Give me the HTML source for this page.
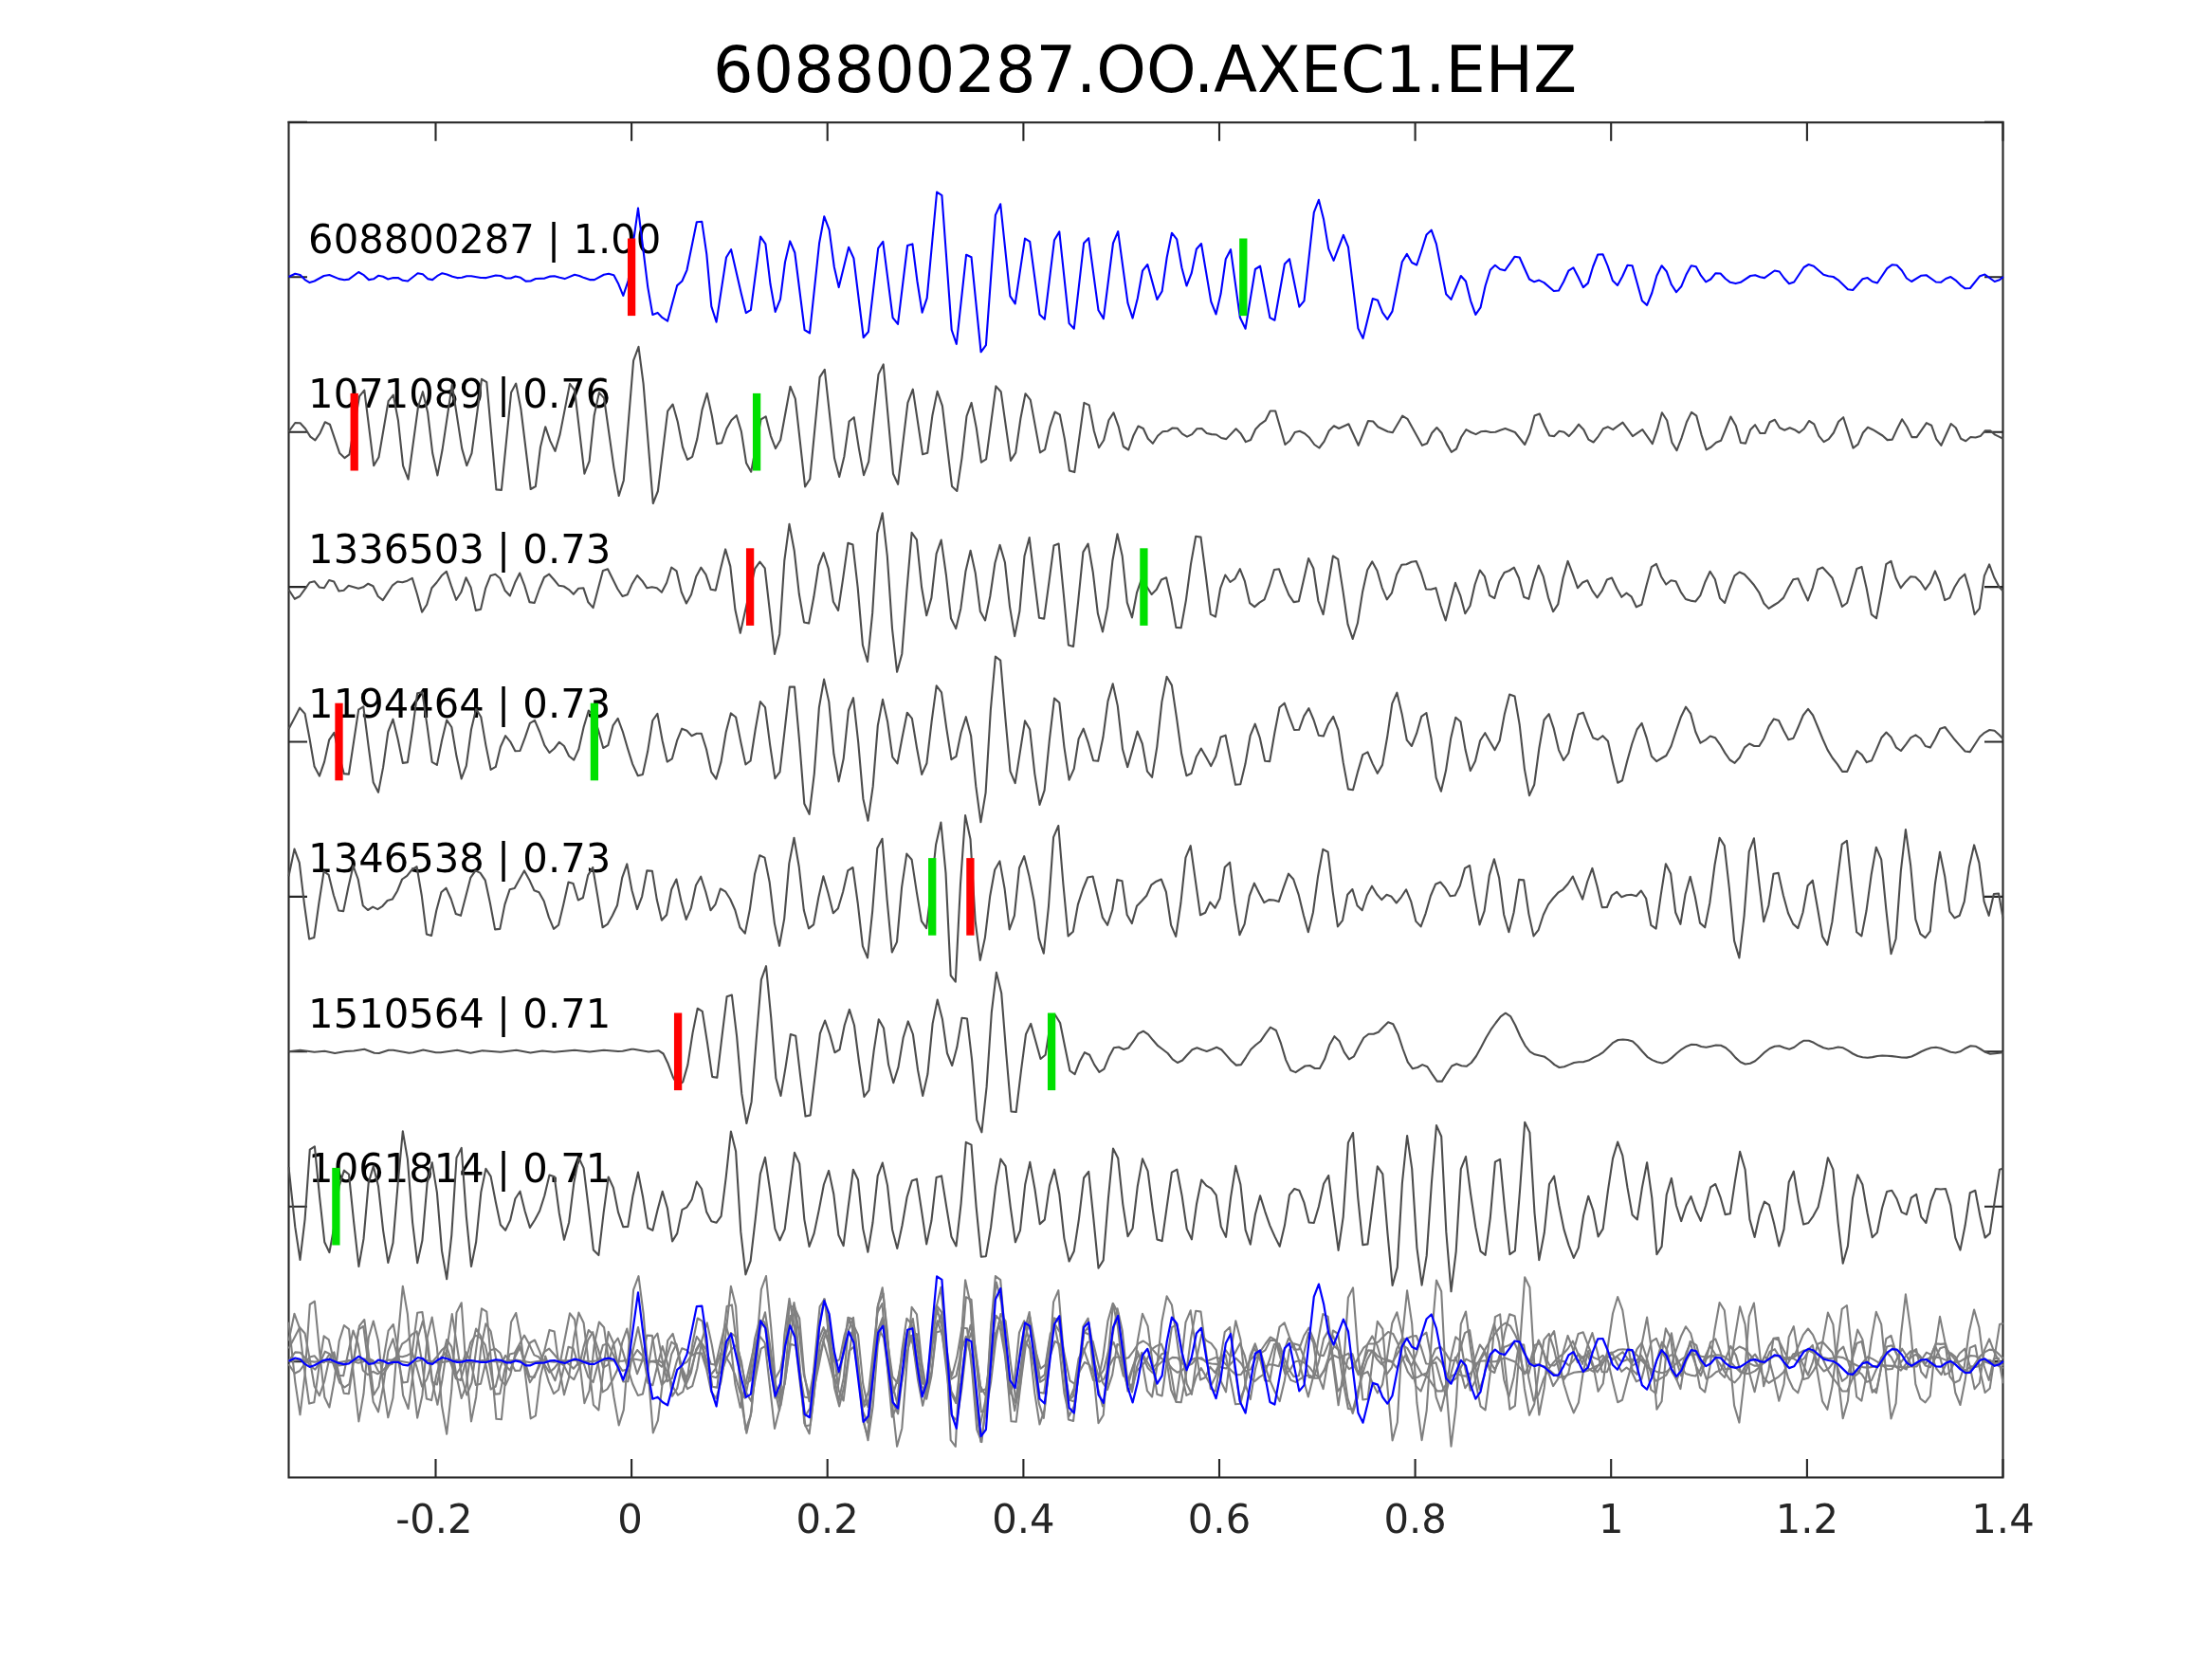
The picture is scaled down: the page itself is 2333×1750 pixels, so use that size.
<!DOCTYPE html>
<html><head><meta charset="utf-8"><title>608800287.OO.AXEC1.EHZ</title>
<style>html,body{margin:0;padding:0;background:#fff;overflow:hidden}svg{display:block;will-change:transform}</style></head>
<body>
<svg width="2333" height="1750" viewBox="0 0 2333 1750">
<rect width="2333" height="1750" fill="#fff"/>
<defs><clipPath id="c"><rect x="303.5" y="128.2" width="1810.0" height="1431.3"/></clipPath></defs>
<g stroke="#262626" stroke-width="2.1" fill="none">
<rect x="304.5" y="129.2" width="1808.0" height="1429.3"/>
<path d="M459.5 129.2v19.5M459.5 1558.5v-19.5M666.1 129.2v19.5M666.1 1558.5v-19.5M872.7 129.2v19.5M872.7 1558.5v-19.5M1079.4 129.2v19.5M1079.4 1558.5v-19.5M1286.0 129.2v19.5M1286.0 1558.5v-19.5M1492.6 129.2v19.5M1492.6 1558.5v-19.5M1699.2 129.2v19.5M1699.2 1558.5v-19.5M1905.9 129.2v19.5M1905.9 1558.5v-19.5M2112.5 129.2v19.5M2112.5 1558.5v-19.5M304.5 292.3h19.5M2112.5 292.3h-19.5M304.5 455.7h19.5M2112.5 455.7h-19.5M304.5 619.1h19.5M2112.5 619.1h-19.5M304.5 782.5h19.5M2112.5 782.5h-19.5M304.5 945.9h19.5M2112.5 945.9h-19.5M304.5 1109.3h19.5M2112.5 1109.3h-19.5M304.5 1272.7h19.5M2112.5 1272.7h-19.5M304.5 1436.1h19.5M2112.5 1436.1h-19.5M303.5 128.7h20.5M2113.5 128.7h-20.5"/>
</g>
<g font-family="'DejaVu Sans', 'Liberation Sans', sans-serif">
<text transform="translate(1207.5 96.6) scale(1 1.020)" font-size="66.9" text-anchor="middle" fill="#000">608800287.OO.AXEC1.EHZ</text>
<text transform="translate(457.9 1617.0) scale(1 1.030)" font-size="41.7" text-anchor="middle" fill="#262626">-0.2</text>
<text transform="translate(664.5 1617.0) scale(1 1.030)" font-size="41.7" text-anchor="middle" fill="#262626">0</text>
<text transform="translate(872.7 1617.0) scale(1 1.030)" font-size="41.7" text-anchor="middle" fill="#262626">0.2</text>
<text transform="translate(1079.4 1617.0) scale(1 1.030)" font-size="41.7" text-anchor="middle" fill="#262626">0.4</text>
<text transform="translate(1286.0 1617.0) scale(1 1.030)" font-size="41.7" text-anchor="middle" fill="#262626">0.6</text>
<text transform="translate(1492.6 1617.0) scale(1 1.030)" font-size="41.7" text-anchor="middle" fill="#262626">0.8</text>
<text transform="translate(1699.2 1617.0) scale(1 1.030)" font-size="41.7" text-anchor="middle" fill="#262626">1</text>
<text transform="translate(1905.9 1617.0) scale(1 1.030)" font-size="41.7" text-anchor="middle" fill="#262626">1.2</text>
<text transform="translate(2112.5 1617.0) scale(1 1.030)" font-size="41.7" text-anchor="middle" fill="#262626">1.4</text>
<text transform="translate(325.1 266.8) scale(1 1.030)" font-size="41.7" fill="#000">608800287 | 1.00</text>
<text transform="translate(325.1 430.2) scale(1 1.030)" font-size="41.7" fill="#000">1071089 | 0.76</text>
<text transform="translate(325.1 593.6) scale(1 1.030)" font-size="41.7" fill="#000">1336503 | 0.73</text>
<text transform="translate(325.1 757.0) scale(1 1.030)" font-size="41.7" fill="#000">1194464 | 0.73</text>
<text transform="translate(325.1 920.4) scale(1 1.030)" font-size="41.7" fill="#000">1346538 | 0.73</text>
<text transform="translate(325.1 1083.8) scale(1 1.030)" font-size="41.7" fill="#000">1510564 | 0.71</text>
<text transform="translate(325.1 1247.2) scale(1 1.030)" font-size="41.7" fill="#000">1061814 | 0.71</text>
</g>
<g clip-path="url(#c)" fill="none" stroke-linejoin="round" stroke-linecap="butt" stroke-width="2.1">
<polyline stroke="#0000ff" points="304.5,292.0 311.3,288.7 316.6,290.0 321.6,295.1 326.6,298.1 331.6,296.5 341.6,291.0 347.4,290.0 357.4,294.1 363.2,295.3 367.9,294.6 378.2,287.0 383.2,289.8 389.0,295.1 394.0,294.3 399.3,290.7 404.0,291.8 409.3,294.5 414.8,293.1 419.8,293.0 424.8,295.8 430.1,296.5 440.6,288.2 445.9,289.3 451.1,294.1 456.1,295.1 461.0,291.2 466.4,288.2 471.4,289.5 477.2,291.8 482.2,293.1 487.2,292.8 492.2,291.3 497.1,291.2 507.1,293.0 512.9,293.1 522.9,290.5 528.3,291.0 533.7,293.5 538.7,293.5 543.7,291.6 549.0,292.8 554.5,296.6 559.5,296.5 565.0,294.0 574.5,293.6 580.3,291.6 584.8,291.2 590.3,292.8 595.6,294.1 606.1,289.8 611.1,291.0 616.1,293.1 621.9,295.1 626.9,295.1 636.9,289.8 641.9,288.8 647.4,290.2 652.4,299.8 657.3,311.9 662.6,296.0 667.8,257.0 673.0,219.6 683.3,303.1 688.3,331.9 693.6,329.9 698.7,335.2 704.1,338.6 714.2,301.1 719.4,296.5 724.5,284.8 734.8,234.3 740.3,233.8 745.3,268.2 750.3,323.1 755.6,339.7 766.0,271.5 771.1,263.2 781.8,309.8 786.8,330.1 791.9,326.8 802.1,249.6 807.4,257.4 812.5,299.8 817.7,328.9 823.0,315.6 828.0,276.5 833.2,254.4 838.3,266.5 848.6,348.0 854.0,351.4 864.1,256.5 869.3,228.3 874.6,242.4 879.8,281.5 884.7,303.1 895.1,260.7 900.4,272.4 910.7,356.0 915.9,350.0 926.2,261.9 931.3,254.9 941.6,335.2 947.0,341.9 957.1,259.0 962.4,257.4 967.4,296.5 972.6,329.7 977.7,314.4 988.1,202.5 993.4,206.1 1003.7,348.0 1008.8,363.0 1019.1,268.7 1024.5,271.2 1034.6,371.3 1039.9,364.2 1049.9,226.9 1055.2,215.3 1065.4,312.3 1070.7,320.3 1081.0,251.6 1086.2,254.9 1096.5,331.7 1101.8,336.7 1112.0,253.2 1117.3,244.4 1127.6,341.1 1132.8,346.7 1143.1,256.5 1148.2,251.2 1158.5,327.3 1163.9,336.1 1174.0,256.5 1179.2,244.1 1189.5,319.8 1194.6,335.6 1199.8,314.8 1205.0,285.7 1210.3,279.0 1220.4,315.9 1225.6,307.3 1230.7,271.5 1235.9,245.7 1241.2,252.4 1246.4,282.3 1251.5,301.5 1256.7,288.2 1261.9,262.7 1267.0,257.0 1277.3,318.1 1282.5,331.4 1287.6,309.8 1292.8,273.2 1298.0,263.2 1307.8,334.7 1313.6,346.7 1323.9,284.0 1329.1,280.7 1339.4,335.1 1344.4,337.7 1354.9,278.5 1360.0,273.2 1370.3,323.6 1375.5,317.3 1385.8,224.1 1390.9,210.8 1396.1,231.6 1401.2,262.4 1406.6,274.8 1411.7,261.5 1416.9,247.9 1422.0,260.7 1432.4,346.4 1437.5,356.9 1447.8,315.1 1453.1,316.8 1458.1,329.7 1463.3,336.9 1468.5,328.4 1478.8,276.2 1483.9,267.9 1489.1,277.0 1494.2,279.5 1499.4,264.0 1504.6,247.4 1509.7,242.7 1514.9,257.4 1525.2,310.3 1530.5,315.9 1540.8,291.0 1546.0,296.8 1551.1,317.3 1556.3,331.9 1561.5,324.4 1566.6,301.5 1571.8,284.8 1576.9,279.8 1582.1,284.0 1587.2,285.3 1592.4,278.2 1597.6,270.7 1602.7,271.5 1607.9,283.2 1613.0,294.5 1618.2,297.3 1623.3,295.6 1628.5,298.1 1638.8,307.0 1644.0,306.5 1649.1,297.3 1654.3,285.7 1659.4,282.3 1664.6,292.3 1669.8,303.1 1674.9,298.6 1680.1,281.5 1685.2,268.5 1690.5,268.2 1695.7,280.7 1700.9,296.0 1706.0,301.0 1711.2,291.5 1716.5,279.8 1721.6,280.2 1731.9,317.3 1737.1,321.9 1742.3,309.0 1747.4,290.7 1752.6,280.3 1757.7,286.2 1762.9,300.3 1768.0,308.1 1773.2,302.3 1778.4,289.8 1783.7,280.3 1788.8,281.3 1794.0,290.7 1799.2,297.3 1804.3,294.5 1809.5,288.2 1814.6,288.5 1819.8,294.0 1824.9,297.8 1830.6,299.1 1835.8,297.8 1846.1,291.0 1851.2,290.3 1856.4,292.3 1861.0,293.1 1871.7,285.5 1876.7,286.5 1881.8,293.5 1887.0,299.3 1892.2,297.5 1902.5,282.0 1907.6,279.0 1912.9,280.7 1923.3,289.8 1928.4,291.2 1933.6,292.0 1938.7,295.3 1949.0,305.3 1954.2,306.0 1964.5,294.3 1969.7,293.1 1974.8,297.0 1980.0,298.5 1990.3,283.2 1995.5,279.3 2000.6,279.8 2005.8,285.2 2010.9,293.5 2016.1,297.0 2026.4,290.7 2031.6,290.2 2041.9,297.5 2047.0,297.8 2052.2,294.0 2057.4,292.1 2062.5,295.6 2067.6,300.6 2072.8,304.3 2077.9,304.0 2088.2,291.2 2093.4,289.5 2103.7,297.0 2108.9,295.3 2113.0,292.0"/>
<polyline stroke="#4d4d4d" points="304.5,455.3 311.3,446.0 316.6,446.3 322.1,452.3 327.3,460.6 332.4,464.3 337.6,456.8 342.8,445.3 347.9,447.7 358.2,478.1 363.4,483.1 368.5,479.4 379.0,418.2 384.3,411.6 394.2,491.1 399.5,482.3 409.6,423.2 414.8,416.6 419.9,443.2 425.1,491.4 430.6,505.6 440.9,429.9 445.9,413.2 451.1,434.9 456.2,478.1 461.4,501.4 466.5,474.8 476.8,405.7 487.2,473.1 492.3,491.1 497.5,478.1 508.0,399.9 513.3,403.2 523.4,516.4 528.9,516.9 539.1,414.1 544.2,404.6 549.4,431.5 559.7,516.0 564.9,513.0 570.0,471.5 575.2,450.2 580.3,465.1 585.5,475.9 590.6,458.1 601.0,404.9 606.1,411.6 616.4,499.7 621.6,486.4 626.7,438.2 631.9,414.1 637.1,419.9 647.4,493.1 652.7,523.0 657.8,506.7 668.1,380.3 673.5,365.8 678.6,404.9 688.8,531.0 693.9,518.0 704.2,433.7 709.6,426.5 714.7,444.8 719.9,471.5 725.0,484.8 730.2,481.8 735.3,463.1 740.5,432.4 745.7,414.9 750.8,438.2 756.0,468.1 761.1,467.3 766.3,452.3 771.4,443.2 776.8,438.2 781.9,455.3 787.1,488.6 792.2,497.7 802.6,442.3 807.7,439.3 812.9,459.8 818.0,473.1 823.2,464.0 833.5,407.7 838.8,420.7 849.1,513.4 854.3,505.2 864.6,397.9 869.8,389.9 880.1,483.6 885.2,503.1 890.4,481.4 895.6,444.5 900.7,440.2 905.9,473.1 911.0,501.1 916.2,486.9 926.5,394.9 931.7,384.4 942.0,499.7 947.1,510.9 957.4,424.9 962.8,410.7 973.1,479.3 978.2,477.8 983.4,438.2 988.6,412.9 993.9,428.2 1004.0,513.0 1009.3,518.0 1014.5,483.1 1019.5,439.0 1024.6,424.9 1029.8,451.5 1034.9,487.6 1040.1,484.3 1050.4,407.4 1055.7,413.2 1066.0,485.9 1071.2,477.6 1076.4,441.5 1081.5,415.2 1086.8,421.9 1097.0,477.4 1102.1,474.1 1107.3,450.7 1112.6,434.5 1117.8,437.4 1122.9,463.1 1127.9,496.4 1133.3,498.1 1143.4,424.9 1148.7,427.4 1153.9,454.8 1159.0,472.3 1164.2,464.3 1169.4,443.2 1174.5,435.4 1179.7,449.8 1184.8,471.0 1190.2,474.5 1195.3,459.8 1200.5,449.5 1205.8,452.0 1210.8,462.8 1215.9,467.8 1221.1,459.8 1226.3,455.3 1231.4,454.8 1236.6,451.5 1241.7,451.8 1246.9,457.6 1252.0,460.6 1257.2,458.1 1262.4,452.3 1267.5,452.0 1272.7,457.0 1277.8,458.1 1283.0,458.5 1288.1,462.0 1293.3,463.1 1303.6,452.3 1308.8,457.6 1313.9,466.1 1319.1,464.0 1324.2,452.8 1329.4,447.3 1334.6,443.7 1339.7,433.5 1345.2,433.5 1355.4,469.0 1360.5,464.8 1365.7,456.0 1370.8,454.8 1376.0,457.3 1381.1,461.8 1386.3,469.0 1391.4,472.5 1396.6,465.6 1401.7,454.5 1406.9,449.3 1412.1,452.0 1422.4,447.3 1432.7,469.8 1443.0,444.0 1448.2,444.5 1453.3,450.3 1463.6,455.2 1468.8,456.2 1479.1,438.7 1484.4,441.8 1499.9,469.8 1505.1,467.8 1510.2,456.8 1515.4,451.0 1520.5,456.8 1525.7,468.1 1530.8,476.8 1536.0,473.5 1541.2,461.0 1546.3,453.2 1551.5,456.0 1556.6,458.1 1561.8,455.3 1566.9,454.8 1572.1,456.0 1577.3,455.8 1582.4,453.7 1587.6,452.0 1592.7,454.0 1597.9,456.0 1608.2,469.0 1613.4,457.3 1618.5,438.5 1623.8,436.5 1629.0,449.0 1634.2,459.5 1639.3,460.1 1644.5,454.8 1649.6,455.7 1654.8,460.1 1659.9,454.5 1665.1,447.7 1670.3,453.2 1675.4,463.6 1680.6,466.5 1685.7,460.3 1690.9,452.3 1696.0,450.3 1701.2,453.2 1711.5,445.7 1722.0,460.1 1732.3,453.2 1742.8,468.1 1747.9,453.2 1752.9,435.2 1758.2,443.5 1763.4,466.8 1768.5,475.1 1773.7,461.5 1778.9,445.2 1784.0,434.9 1789.3,438.7 1794.5,458.6 1799.7,474.3 1804.8,471.5 1810.0,466.8 1815.1,464.8 1825.4,439.5 1830.8,449.0 1835.9,467.0 1841.1,467.6 1846.2,453.2 1851.1,448.2 1856.4,457.0 1861.5,457.0 1866.7,445.2 1871.9,442.8 1877.0,451.2 1882.2,453.7 1887.7,451.2 1892.5,453.2 1897.6,456.5 1902.8,452.3 1908.0,444.0 1913.3,447.3 1918.4,459.8 1923.6,466.1 1928.8,463.1 1933.9,456.5 1939.1,444.8 1944.2,440.2 1954.5,472.6 1959.7,468.6 1964.9,456.5 1970.0,450.7 1975.2,453.2 1985.5,459.5 1990.6,464.1 1995.8,463.6 2001.0,452.3 2006.1,442.3 2011.3,450.3 2016.4,461.1 2021.6,461.1 2031.9,446.2 2037.1,448.7 2042.2,463.1 2047.4,469.8 2057.7,447.0 2062.8,451.2 2068.1,462.8 2073.3,465.3 2078.4,461.0 2083.6,461.5 2088.7,460.1 2093.9,454.3 2099.1,454.3 2104.2,458.6 2109.4,461.1 2112.7,462.8"/>
<polyline stroke="#4d4d4d" points="304.5,622.0 310.8,631.8 316.1,629.0 321.3,621.8 326.5,614.5 331.6,613.2 336.8,619.5 341.9,620.3 347.1,612.0 352.2,613.5 357.4,623.5 362.6,622.8 367.7,617.8 372.9,619.3 378.0,620.8 383.2,619.3 388.3,615.7 393.5,618.2 398.7,629.0 403.8,633.1 409.0,625.1 414.1,617.3 419.3,613.5 424.4,614.3 429.6,612.7 434.8,609.8 439.9,626.5 445.1,645.6 450.2,637.8 455.4,620.3 460.5,614.5 465.7,607.3 470.9,602.8 476.0,618.2 481.2,632.8 486.3,624.8 491.5,609.3 496.6,619.8 501.8,643.9 507.0,642.8 512.1,620.7 517.3,607.3 522.4,605.7 527.6,610.3 532.7,623.1 537.9,628.5 543.1,614.8 548.2,604.5 553.4,618.2 558.5,635.1 563.7,636.0 568.8,621.5 574.0,609.0 579.2,605.7 584.3,611.5 589.5,617.8 594.6,618.5 599.8,621.8 604.9,626.8 610.1,620.7 615.3,620.2 620.4,635.3 625.6,641.1 630.7,621.5 635.9,601.9 641.0,600.2 646.2,610.7 651.4,621.2 656.5,629.0 661.7,627.3 666.8,615.7 672.1,607.0 677.3,612.7 682.4,620.3 687.6,619.3 692.8,620.3 697.9,624.8 703.1,614.8 708.2,598.5 713.6,602.4 718.7,624.5 723.9,636.5 729.0,627.3 734.2,608.2 739.3,598.7 744.5,606.2 749.7,621.8 754.8,622.6 760.0,599.9 765.1,579.4 770.3,597.4 775.4,643.1 780.8,667.7 785.9,644.8 796.2,599.9 801.4,592.7 806.7,599.4 811.9,644.8 817.0,690.0 822.2,668.9 827.3,591.5 832.5,552.9 837.7,580.7 842.8,626.5 848.0,656.4 853.1,657.6 858.3,629.8 863.4,596.5 868.6,583.2 873.8,599.9 878.9,634.8 884.1,643.9 889.2,609.8 894.4,572.7 899.5,574.6 904.7,619.8 909.9,680.5 915.0,698.0 920.2,646.4 925.3,562.4 930.7,541.3 935.8,586.5 941.0,663.1 946.1,708.8 951.3,689.7 956.4,623.1 961.6,561.9 966.9,569.4 972.1,619.8 977.2,649.3 982.4,630.6 987.6,584.1 992.7,569.6 997.9,606.5 1003.0,652.3 1008.2,663.1 1013.3,641.9 1018.5,602.4 1023.6,580.7 1028.8,604.8 1033.9,645.1 1039.1,654.4 1044.3,629.0 1049.4,594.0 1054.6,574.9 1059.9,593.2 1065.0,639.8 1070.2,671.1 1075.4,644.8 1080.5,586.5 1085.7,567.1 1090.8,609.8 1096.0,651.8 1101.2,652.6 1106.3,614.8 1111.5,575.4 1116.6,573.6 1121.8,626.5 1126.9,680.5 1132.1,681.9 1137.3,633.1 1142.4,582.4 1147.6,573.6 1152.7,603.2 1157.9,647.3 1163.0,666.4 1168.2,640.6 1173.4,591.5 1178.5,563.3 1183.7,586.5 1188.8,635.6 1194.0,651.4 1199.1,624.8 1204.3,609.8 1209.6,619.0 1214.6,627.0 1219.8,621.8 1224.9,611.5 1230.1,609.3 1235.2,631.5 1240.4,661.9 1245.7,662.2 1250.9,633.1 1256.0,594.9 1261.2,565.8 1266.5,566.6 1271.7,606.5 1276.8,647.8 1282.0,650.6 1287.1,620.7 1292.3,606.5 1297.5,614.0 1302.6,610.3 1307.8,600.2 1312.9,613.2 1318.1,636.1 1323.2,640.1 1328.4,635.6 1333.6,632.3 1338.7,618.2 1343.9,601.0 1349.0,600.2 1354.2,614.8 1359.3,627.3 1364.5,635.1 1369.8,634.3 1375.0,611.5 1380.1,589.0 1385.3,599.5 1390.4,634.0 1395.6,648.1 1400.7,618.2 1405.9,586.5 1411.2,589.9 1416.4,623.1 1421.5,658.4 1426.7,673.9 1431.9,657.3 1437.0,624.8 1442.2,601.2 1447.3,592.4 1452.5,602.0 1457.6,619.8 1462.8,632.3 1468.0,625.3 1473.1,606.0 1478.3,595.7 1483.4,595.2 1488.6,592.7 1493.7,592.0 1498.9,604.5 1504.1,621.5 1509.2,621.8 1514.4,620.2 1519.5,639.0 1524.7,654.4 1529.8,634.0 1535.0,614.8 1540.2,628.1 1545.3,647.3 1550.5,639.0 1555.6,616.5 1560.8,601.5 1565.9,608.2 1571.1,628.1 1576.3,631.0 1581.4,613.2 1586.6,604.0 1591.7,602.0 1596.9,598.7 1602.0,609.8 1607.2,629.8 1612.4,631.8 1617.5,612.3 1622.7,596.5 1627.8,608.2 1633.0,630.3 1638.1,645.1 1643.3,637.3 1648.5,609.8 1653.6,591.9 1658.8,605.7 1663.9,620.2 1669.1,614.5 1674.2,612.3 1679.4,623.1 1684.6,630.3 1689.7,623.1 1694.9,611.5 1700.0,609.5 1705.2,620.7 1710.3,629.8 1715.5,625.6 1720.6,629.3 1725.8,640.3 1731.4,637.8 1736.6,617.3 1741.8,598.2 1746.9,594.9 1752.1,608.2 1757.2,616.5 1762.4,612.3 1767.5,613.2 1772.7,624.3 1777.9,632.0 1783.0,633.6 1788.2,634.5 1793.3,628.1 1798.5,613.7 1803.6,602.8 1808.8,611.0 1814.0,631.1 1819.1,636.0 1824.3,620.7 1829.4,607.3 1834.6,603.5 1839.7,605.7 1844.9,611.2 1850.1,617.3 1855.2,624.8 1860.4,636.5 1865.5,641.9 1870.7,638.5 1875.8,635.3 1881.0,630.6 1886.2,620.3 1891.3,611.2 1896.5,610.3 1901.6,622.3 1906.8,633.5 1911.9,619.8 1917.1,600.7 1922.3,598.5 1927.4,604.0 1932.6,609.8 1937.7,624.0 1942.9,639.8 1948.1,636.0 1953.2,618.2 1958.4,599.9 1963.5,597.9 1968.7,620.7 1973.8,648.1 1979.0,652.3 1984.2,624.8 1989.3,595.2 1994.5,591.9 1999.6,609.8 2004.8,620.2 2009.9,613.7 2015.1,608.2 2020.3,608.7 2025.4,613.7 2030.6,621.8 2035.7,614.8 2040.9,602.4 2046.0,614.5 2051.2,633.1 2056.4,630.6 2061.5,619.3 2066.7,610.7 2072.3,605.7 2077.4,623.1 2082.6,648.1 2087.8,641.8 2092.9,607.3 2098.1,595.4 2103.2,609.0 2108.4,619.0 2112.7,623.6"/>
<polyline stroke="#4d4d4d" points="304.5,769.0 310.8,757.0 316.1,746.7 321.6,752.9 326.6,779.5 331.6,808.6 336.9,818.6 342.1,803.6 347.2,780.3 352.4,772.8 357.6,796.1 362.7,816.1 367.9,816.6 373.0,782.8 378.2,748.7 383.3,745.4 388.5,786.1 393.7,825.2 399.0,835.7 404.1,809.4 409.3,772.0 414.5,758.7 419.6,779.5 424.8,804.9 429.9,804.1 435.1,769.5 440.2,731.2 445.4,730.4 450.6,766.2 455.7,803.9 460.9,806.9 466.0,781.2 471.2,759.5 476.3,767.0 481.5,797.8 486.7,821.4 491.8,807.8 497.0,769.5 502.1,747.9 507.3,756.2 512.4,786.1 517.6,811.9 522.8,808.9 527.9,787.8 533.1,776.2 538.2,782.3 543.4,792.3 548.5,792.0 553.7,778.2 558.9,762.9 564.0,759.9 569.2,772.0 574.3,786.1 579.5,794.0 584.7,789.5 589.8,782.8 595.0,787.0 600.1,797.5 605.3,801.6 610.4,790.3 615.6,767.0 620.8,749.5 625.9,754.5 631.1,770.3 636.2,789.0 641.4,786.1 646.5,765.4 651.7,757.9 656.9,772.0 662.0,789.5 667.2,806.1 672.8,818.3 677.9,816.9 683.1,792.8 688.3,760.0 693.4,752.9 698.6,781.2 703.7,803.6 708.9,800.3 714.1,781.2 719.2,768.7 724.4,770.7 729.5,776.2 734.7,773.7 739.8,773.8 745.0,790.3 750.2,814.4 755.3,821.6 760.5,803.6 765.6,772.8 770.8,752.4 776.1,756.5 781.3,782.8 786.4,806.4 791.6,802.5 796.7,769.5 801.9,740.1 807.0,746.2 812.2,786.1 817.4,821.1 822.5,814.4 827.7,769.5 832.8,724.6 838.0,724.6 843.2,782.8 848.3,847.7 853.6,858.8 858.8,816.1 863.9,746.2 869.1,716.6 874.3,740.4 879.4,795.3 884.6,824.4 889.7,800.3 894.9,749.5 900.0,736.2 905.2,782.8 910.4,842.7 915.5,865.7 920.7,829.4 925.8,765.4 931.0,737.9 936.1,761.2 941.3,798.6 946.5,805.3 951.6,777.8 956.8,751.7 961.9,757.9 967.1,789.5 972.2,816.9 977.4,805.3 982.6,761.2 987.7,723.4 993.0,730.4 998.2,767.8 1003.4,801.1 1008.5,797.8 1013.6,772.8 1018.8,756.2 1024.1,776.2 1029.3,829.4 1034.4,867.3 1039.6,836.1 1044.8,749.5 1049.9,692.5 1055.2,696.6 1060.4,757.9 1065.5,813.6 1070.7,826.1 1075.9,792.8 1081.0,760.4 1086.2,769.5 1091.3,816.1 1096.5,848.9 1101.6,833.6 1106.8,781.2 1112.0,736.6 1117.3,741.2 1122.4,787.8 1127.6,822.7 1132.8,810.8 1137.6,779.5 1142.7,768.7 1147.9,783.7 1153.1,802.3 1158.2,802.8 1163.4,777.8 1168.5,739.6 1173.7,721.3 1178.8,744.6 1184.0,790.3 1189.2,809.1 1194.3,791.1 1199.6,771.5 1204.8,784.5 1210.0,813.6 1215.1,819.9 1220.3,787.8 1225.4,740.4 1230.6,713.8 1235.9,722.9 1241.1,757.9 1246.2,795.3 1251.4,818.3 1256.5,815.8 1261.7,798.6 1266.8,789.5 1272.0,798.6 1277.2,808.1 1282.3,797.8 1287.5,777.5 1292.6,775.7 1297.8,801.1 1303.0,827.7 1308.3,827.2 1313.4,806.1 1318.6,776.2 1323.7,763.7 1328.9,778.7 1334.1,802.8 1339.2,803.1 1344.4,772.8 1349.5,746.2 1354.7,741.7 1359.8,756.2 1365.0,770.0 1370.1,769.8 1375.3,755.4 1380.4,747.1 1385.6,759.5 1390.8,775.7 1395.9,776.5 1401.1,763.7 1406.2,755.9 1411.6,770.3 1416.7,804.4 1421.9,832.4 1427.0,833.2 1432.2,813.6 1437.3,796.1 1442.5,793.3 1447.7,805.6 1452.8,815.8 1458.0,806.9 1463.1,777.8 1468.3,742.1 1473.4,730.7 1478.6,752.9 1483.8,780.7 1488.9,787.0 1494.1,773.7 1499.2,755.9 1504.4,752.0 1509.5,778.7 1514.7,820.3 1519.9,834.7 1525.0,812.8 1530.2,778.7 1535.3,756.7 1540.5,761.2 1545.6,791.1 1550.8,813.1 1556.0,802.8 1561.1,781.2 1566.3,773.2 1571.4,782.3 1576.6,791.1 1581.7,781.2 1586.9,752.9 1592.1,732.6 1597.6,734.6 1602.7,764.5 1607.9,811.1 1613.0,839.1 1618.2,827.7 1623.3,789.5 1628.5,759.5 1633.7,753.2 1638.8,768.7 1644.0,791.1 1649.1,802.0 1654.3,794.5 1659.4,772.0 1664.6,753.4 1669.8,751.7 1674.9,765.4 1680.1,778.2 1685.2,780.3 1690.4,776.2 1695.9,781.7 1701.0,804.4 1706.2,825.7 1711.0,823.2 1716.2,802.8 1721.3,784.5 1726.5,769.5 1731.6,762.9 1736.8,778.7 1741.9,797.8 1747.1,803.1 1752.2,800.0 1757.4,797.0 1762.6,787.0 1767.7,771.2 1772.9,756.2 1778.0,745.7 1783.2,752.9 1788.3,772.0 1793.5,783.7 1798.7,780.7 1803.8,776.5 1809.0,778.2 1814.1,785.3 1819.3,794.1 1824.4,801.5 1829.6,804.8 1834.8,799.0 1839.9,788.6 1845.1,784.5 1850.2,787.0 1855.4,787.0 1860.5,778.7 1865.7,766.2 1870.9,758.4 1876.0,760.0 1881.2,770.7 1886.3,780.3 1891.5,778.7 1896.6,767.0 1901.8,754.5 1907.0,747.9 1912.1,754.5 1917.3,767.0 1922.4,779.5 1927.6,791.1 1932.7,799.5 1937.9,806.1 1943.1,813.9 1948.2,813.9 1953.4,802.0 1958.5,792.0 1963.7,796.1 1968.8,804.1 1974.0,802.3 1979.2,790.3 1984.3,778.3 1989.5,772.5 1994.6,777.8 1999.8,788.3 2004.9,792.0 2010.1,785.3 2015.3,778.2 2020.4,775.3 2025.6,779.0 2030.7,787.0 2035.9,788.6 2041.0,779.5 2046.2,768.7 2051.4,767.0 2056.5,773.7 2061.7,780.3 2066.8,786.1 2072.6,792.5 2077.8,793.1 2082.9,785.3 2088.1,777.3 2093.2,772.8 2098.4,770.0 2103.6,770.8 2108.7,775.3 2112.7,779.5"/>
<polyline stroke="#4d4d4d" points="304.5,924.2 310.5,895.6 315.8,910.1 321.0,954.1 326.1,990.4 331.3,989.1 336.4,952.5 341.6,919.2 346.7,922.9 351.9,944.2 357.1,960.5 362.2,961.1 367.4,935.8 372.5,913.4 377.7,927.5 382.8,955.3 388.0,960.0 393.2,956.6 398.3,959.1 403.5,955.8 408.6,950.0 413.8,948.6 419.0,940.0 424.1,927.5 429.3,923.9 434.4,917.5 439.6,914.2 444.7,944.2 449.9,985.4 455.1,986.9 460.2,960.8 465.4,941.3 470.5,936.7 475.7,948.3 480.8,964.1 486.0,965.8 491.2,945.8 496.3,925.9 501.5,918.4 506.6,920.9 511.8,928.7 516.9,952.5 522.1,980.4 527.3,979.9 532.4,954.1 537.6,938.3 542.7,937.0 547.9,927.5 553.0,918.4 558.2,927.9 563.4,939.2 568.5,941.3 573.7,950.5 578.8,967.4 584.0,979.9 589.1,975.8 594.3,954.1 599.5,930.5 604.6,932.0 609.8,949.5 614.9,947.0 620.1,923.4 625.2,915.0 630.4,945.8 635.6,978.3 640.7,974.9 645.9,965.8 651.0,955.0 656.2,925.9 661.3,911.4 666.5,939.2 672.0,959.1 677.1,945.8 682.3,918.4 687.9,918.7 692.8,949.1 697.9,970.8 703.1,965.0 708.2,938.3 713.4,927.5 718.5,950.8 723.7,969.9 728.9,957.8 734.0,933.7 739.2,924.7 744.3,940.8 749.5,960.3 754.6,953.8 759.8,937.5 765.0,940.3 770.1,948.3 775.3,960.0 780.4,978.3 785.8,984.6 790.9,959.1 796.1,921.7 801.2,902.2 806.5,904.6 811.7,930.8 816.9,974.1 822.0,997.7 827.2,969.1 832.3,910.9 837.5,883.8 842.7,914.2 847.8,960.0 853.0,979.4 858.1,975.4 863.3,946.7 868.4,924.2 873.6,942.5 878.8,963.3 883.9,958.3 889.1,940.8 894.2,918.4 899.5,915.0 904.7,952.5 909.9,998.2 915.0,1010.4 920.2,960.8 925.3,894.7 930.5,884.8 935.6,949.1 940.8,1004.5 946.0,993.6 951.1,935.8 956.3,900.6 961.6,906.7 966.8,940.8 971.9,971.6 977.1,979.1 982.2,937.5 987.1,890.9 992.4,867.6 997.5,920.9 1002.7,1029.0 1007.8,1035.7 1013.0,932.5 1018.1,860.1 1023.5,885.1 1028.6,970.8 1033.8,1012.9 1038.9,989.1 1044.1,945.8 1049.2,917.5 1054.4,908.4 1059.6,937.5 1064.7,980.4 1069.9,965.8 1075.0,915.5 1080.2,903.1 1085.3,923.4 1090.5,950.0 1095.7,989.9 1100.8,1005.7 1106.0,955.8 1111.1,883.1 1116.3,871.0 1121.4,932.5 1126.6,987.4 1131.8,982.8 1136.9,954.1 1142.1,938.0 1147.2,925.5 1152.6,924.5 1157.7,945.8 1162.9,967.9 1168.0,975.8 1173.2,960.0 1178.3,927.9 1183.5,929.2 1188.7,965.0 1193.8,974.1 1199.0,955.8 1204.1,950.5 1209.3,944.7 1214.4,933.3 1219.6,929.7 1224.8,927.5 1229.9,940.8 1235.1,975.8 1240.2,987.9 1245.4,952.5 1250.5,904.7 1255.7,892.1 1260.9,929.2 1266.0,965.3 1271.2,962.8 1276.3,951.6 1281.5,957.8 1286.6,947.8 1291.8,914.7 1297.1,909.7 1302.3,952.5 1307.4,986.2 1312.6,974.9 1317.8,945.0 1322.9,931.7 1328.1,942.2 1333.2,952.1 1338.4,949.1 1343.5,949.5 1348.7,951.1 1353.9,935.8 1359.0,921.7 1364.2,927.5 1369.8,944.2 1375.0,965.8 1379.8,983.3 1384.9,962.5 1390.1,924.2 1395.3,895.9 1400.6,898.7 1405.7,940.8 1410.9,977.4 1416.0,970.8 1421.2,943.7 1426.4,938.0 1431.5,955.3 1436.7,960.3 1441.8,944.2 1447.0,934.7 1452.1,943.3 1457.3,949.1 1462.5,943.8 1467.6,945.8 1472.8,952.5 1477.9,946.3 1483.1,938.3 1488.2,950.8 1493.4,971.9 1498.6,977.4 1503.7,963.3 1508.9,945.0 1514.0,932.8 1519.2,930.5 1524.4,936.7 1529.5,945.3 1534.7,944.5 1539.8,934.2 1545.0,915.9 1550.1,913.0 1555.3,945.8 1560.5,975.4 1565.6,960.8 1570.8,923.4 1575.9,906.2 1581.1,925.9 1586.2,965.0 1591.4,983.3 1596.6,962.5 1602.0,927.9 1607.2,928.4 1612.4,964.1 1617.5,987.4 1622.7,980.8 1627.8,965.0 1633.0,954.1 1638.1,947.5 1643.3,941.7 1648.5,938.3 1653.6,932.5 1658.8,924.5 1663.9,936.7 1669.1,948.6 1674.2,930.0 1679.4,915.9 1684.6,935.0 1689.7,957.1 1694.9,957.0 1700.0,944.5 1705.2,940.8 1710.3,946.2 1715.5,944.2 1720.6,943.7 1725.8,945.3 1730.9,939.5 1736.1,947.8 1741.3,975.8 1746.6,979.6 1751.7,944.2 1756.9,911.2 1762.1,921.4 1767.2,962.5 1772.4,974.9 1777.5,943.3 1782.7,924.7 1787.8,945.8 1793.0,973.6 1798.2,978.3 1803.3,952.5 1808.5,912.5 1813.6,883.8 1818.8,892.1 1823.9,937.5 1829.1,992.4 1834.4,1010.4 1839.6,965.8 1844.7,898.4 1849.9,884.3 1855.1,929.2 1860.2,972.1 1865.4,955.0 1870.5,921.7 1875.7,920.9 1880.8,944.2 1886.0,963.3 1891.2,974.6 1896.3,979.1 1901.5,962.5 1906.6,934.2 1911.8,928.7 1916.9,957.5 1922.1,987.9 1927.3,996.6 1932.4,972.4 1937.6,930.8 1942.7,890.6 1947.9,886.8 1953.0,935.8 1958.2,983.3 1963.4,987.4 1968.5,960.8 1973.7,922.5 1978.8,893.7 1984.2,906.7 1989.3,959.1 1994.5,1006.2 1999.6,990.2 2004.8,919.2 2009.9,875.1 2015.1,912.5 2020.3,969.6 2025.4,985.2 2030.6,989.1 2035.7,982.4 2040.9,932.5 2046.0,898.7 2051.2,924.2 2056.4,961.6 2061.5,968.3 2066.7,965.8 2071.8,950.8 2076.9,914.2 2082.1,891.4 2087.4,910.1 2092.6,950.8 2097.7,965.8 2102.9,943.0 2108.0,942.5 2112.7,969.1"/>
<polyline stroke="#4d4d4d" points="304.5,1109.2 316.6,1107.7 331.6,1109.8 342.4,1108.8 353.2,1111.0 364.9,1109.0 373.2,1108.5 384.3,1106.8 394.8,1110.7 399.8,1111.0 409.8,1107.8 414.8,1107.7 431.4,1110.7 435.6,1110.3 446.4,1107.5 459.7,1110.3 464.7,1110.3 482.2,1107.8 496.3,1110.8 508.8,1108.2 527.9,1109.8 544.6,1107.8 559.5,1110.5 572.0,1108.5 584.5,1109.8 606.1,1107.8 621.9,1109.5 636.9,1107.8 651.9,1109.0 656.7,1108.8 666.0,1106.8 668.3,1106.7 684.1,1109.5 694.4,1108.2 699.6,1111.5 704.7,1122.3 709.9,1136.4 715.0,1144.8 720.2,1141.4 725.4,1123.1 730.5,1089.9 735.7,1063.7 740.8,1066.9 746.0,1099.8 751.2,1135.9 756.3,1136.8 761.5,1093.2 766.6,1051.3 771.9,1049.6 777.1,1093.2 782.3,1153.9 787.4,1185.0 792.6,1162.2 797.7,1096.5 802.9,1033.3 808.0,1019.2 813.2,1073.2 818.4,1137.3 823.5,1155.9 828.7,1124.8 833.8,1091.0 839.2,1092.7 844.3,1136.4 849.5,1177.5 854.6,1176.4 859.8,1133.1 864.9,1090.2 870.1,1076.5 875.3,1091.5 880.4,1110.3 885.6,1107.0 890.7,1081.5 895.9,1064.9 901.0,1081.5 906.2,1121.5 911.4,1156.9 916.5,1150.2 921.7,1108.2 926.8,1075.2 932.0,1084.4 937.1,1123.1 942.3,1142.3 947.5,1125.6 952.6,1094.8 957.8,1077.4 962.9,1091.0 968.1,1129.0 973.2,1155.9 978.4,1133.1 983.6,1079.9 988.7,1054.6 993.9,1074.9 999.0,1111.0 1004.2,1124.0 1009.3,1104.8 1014.5,1073.7 1020.0,1074.5 1025.1,1118.1 1030.3,1181.4 1035.4,1194.3 1040.6,1146.4 1045.8,1068.2 1050.9,1025.8 1056.2,1047.4 1061.4,1113.1 1066.5,1172.5 1071.7,1173.0 1076.9,1129.8 1082.0,1091.0 1087.2,1079.9 1092.3,1098.2 1097.5,1117.0 1102.6,1112.8 1107.8,1079.9 1113.0,1070.7 1118.1,1079.0 1123.3,1104.8 1128.4,1129.5 1133.6,1133.1 1138.7,1119.8 1143.9,1110.2 1149.1,1112.8 1154.2,1123.1 1159.4,1130.9 1164.5,1127.6 1169.7,1114.8 1174.8,1105.3 1180.0,1104.5 1185.2,1107.0 1190.3,1105.3 1195.5,1098.2 1200.6,1090.4 1205.8,1087.7 1211.0,1091.2 1216.1,1097.3 1221.3,1103.2 1226.4,1107.0 1231.6,1111.0 1236.7,1117.3 1241.9,1121.0 1247.1,1118.5 1252.2,1112.8 1257.4,1107.3 1262.5,1105.3 1267.7,1107.3 1272.8,1109.0 1278.0,1107.0 1283.2,1104.8 1288.3,1107.3 1293.5,1113.1 1298.6,1119.0 1303.8,1123.6 1308.9,1123.1 1314.1,1115.3 1319.3,1107.0 1324.4,1102.3 1329.6,1098.2 1334.7,1090.7 1339.9,1083.7 1345.9,1087.0 1351.0,1100.7 1356.2,1118.1 1361.3,1129.0 1366.5,1131.1 1371.3,1127.8 1376.5,1124.5 1381.6,1124.0 1386.8,1127.0 1391.9,1127.0 1397.1,1117.3 1402.2,1102.3 1407.4,1093.2 1412.6,1098.2 1417.7,1109.8 1422.9,1117.3 1428.0,1114.3 1433.2,1104.0 1438.3,1094.8 1443.5,1090.7 1448.7,1090.7 1453.8,1088.7 1459.0,1083.2 1464.1,1078.2 1469.3,1080.2 1474.4,1090.7 1479.6,1106.5 1484.8,1120.3 1489.9,1127.3 1495.1,1126.0 1500.2,1123.1 1505.4,1125.3 1510.5,1133.1 1515.7,1140.6 1520.9,1140.6 1526.0,1132.3 1531.2,1124.5 1536.3,1122.3 1541.5,1124.3 1546.6,1124.8 1551.8,1121.0 1557.0,1114.0 1562.1,1104.8 1567.3,1094.8 1572.4,1086.2 1577.6,1079.0 1582.7,1072.4 1587.9,1068.7 1593.1,1072.1 1598.2,1081.5 1603.4,1093.2 1608.5,1102.8 1613.7,1109.3 1618.8,1112.3 1624.0,1113.5 1629.2,1114.8 1634.3,1118.5 1639.5,1123.1 1644.6,1126.0 1649.8,1125.3 1654.9,1123.1 1660.1,1121.0 1665.3,1120.3 1670.4,1120.1 1675.6,1118.6 1680.7,1115.6 1685.9,1113.1 1691.0,1109.8 1696.2,1104.8 1701.4,1099.8 1706.5,1097.0 1711.7,1096.5 1716.8,1097.0 1722.0,1098.5 1727.1,1103.2 1732.3,1109.3 1737.4,1114.8 1742.6,1118.1 1747.7,1120.3 1753.2,1121.5 1758.2,1119.8 1763.4,1115.6 1768.5,1111.0 1773.7,1106.8 1778.9,1103.7 1784.0,1101.8 1789.2,1102.0 1794.3,1104.0 1799.5,1104.8 1804.6,1103.7 1809.8,1102.5 1815.0,1102.7 1820.1,1105.2 1825.3,1109.8 1830.4,1115.6 1835.6,1120.3 1840.7,1122.5 1845.9,1121.8 1851.1,1119.3 1856.2,1114.8 1861.4,1109.8 1866.5,1106.0 1871.7,1103.7 1876.8,1103.2 1882.0,1105.2 1887.2,1106.8 1892.3,1104.8 1897.5,1100.7 1902.6,1097.7 1907.8,1097.7 1912.9,1099.8 1918.1,1102.8 1923.3,1105.3 1928.4,1106.5 1933.6,1105.7 1938.7,1104.5 1943.9,1105.3 1949.0,1108.2 1954.2,1111.5 1959.4,1114.0 1964.5,1115.3 1969.7,1115.8 1974.8,1115.1 1980.0,1114.0 1985.2,1113.5 1990.3,1113.8 1995.5,1114.1 2000.6,1114.8 2005.8,1115.5 2010.9,1115.6 2016.1,1114.5 2021.3,1112.0 2026.4,1109.3 2031.6,1107.0 2036.7,1105.3 2041.9,1104.8 2047.0,1105.7 2052.2,1107.8 2057.4,1109.8 2062.5,1110.5 2067.3,1109.3 2073.3,1105.7 2078.4,1103.2 2083.6,1103.7 2088.7,1106.5 2093.9,1109.8 2099.1,1111.8 2104.2,1111.2 2112.7,1110.3"/>
<polyline stroke="#4d4d4d" points="304.5,1231.2 311.3,1294.4 316.5,1328.9 321.6,1286.1 326.8,1212.6 331.9,1209.3 337.1,1262.8 342.3,1310.3 347.4,1321.1 352.6,1292.8 357.7,1251.2 362.9,1234.6 368.0,1238.7 373.2,1289.5 378.4,1336.0 383.5,1306.9 388.7,1247.9 393.8,1230.1 399.0,1251.2 404.1,1297.8 409.3,1331.9 414.5,1311.1 419.6,1249.5 424.8,1193.3 429.9,1222.9 435.1,1289.5 440.2,1332.2 445.4,1308.6 450.6,1247.9 455.7,1226.2 460.9,1257.8 466.0,1319.4 471.2,1349.3 476.3,1302.8 481.5,1221.2 486.7,1210.9 491.8,1282.8 497.0,1336.0 502.1,1310.3 507.3,1257.8 512.4,1232.9 517.6,1240.9 522.8,1267.8 527.9,1292.0 533.1,1297.8 538.2,1287.0 543.4,1264.5 548.5,1256.7 553.7,1277.8 558.9,1294.9 564.0,1287.0 569.2,1277.3 574.3,1261.2 579.5,1239.5 584.7,1241.2 589.8,1279.5 595.0,1307.8 600.1,1289.5 605.3,1247.9 610.4,1221.2 615.6,1232.1 620.8,1274.5 625.9,1318.6 631.4,1324.1 636.6,1279.5 641.7,1241.5 646.9,1252.9 652.0,1278.6 657.2,1294.1 662.3,1293.9 667.5,1261.2 673.0,1236.6 678.1,1262.8 683.3,1295.3 688.4,1297.8 693.6,1276.1 698.7,1256.7 703.9,1274.5 709.1,1309.4 714.2,1301.1 719.4,1276.1 724.5,1273.3 729.7,1265.3 734.8,1246.5 740.0,1254.0 745.2,1278.6 750.3,1288.3 755.5,1289.8 760.6,1282.8 765.8,1241.2 770.9,1193.5 776.1,1214.6 781.3,1299.4 786.4,1344.4 791.6,1330.2 796.7,1286.1 801.9,1238.2 807.0,1220.9 812.2,1256.2 817.4,1296.1 822.5,1308.3 827.7,1296.6 832.8,1256.2 838.0,1215.9 843.2,1227.4 848.3,1286.1 853.5,1314.9 858.6,1301.1 863.8,1276.1 868.9,1249.5 874.1,1234.9 879.3,1259.5 884.4,1302.8 889.6,1314.1 894.7,1272.8 899.9,1233.7 905.0,1244.5 910.2,1296.1 915.4,1320.7 920.5,1289.5 925.7,1240.4 930.8,1226.6 936.0,1250.4 941.1,1296.9 946.3,1316.9 951.5,1292.8 956.6,1262.8 961.8,1245.4 966.9,1243.7 972.1,1277.8 977.2,1312.4 982.4,1287.8 987.6,1242.0 993.0,1240.4 998.2,1272.8 1003.4,1304.4 1008.5,1314.4 1013.6,1269.5 1018.8,1204.9 1024.5,1207.6 1029.6,1272.8 1034.8,1325.7 1039.9,1325.2 1045.1,1294.4 1050.2,1251.2 1055.4,1222.6 1060.6,1230.1 1065.7,1272.8 1070.9,1310.3 1076.0,1297.8 1081.2,1249.5 1086.3,1225.9 1091.5,1254.5 1096.7,1291.1 1101.8,1286.6 1107.0,1250.4 1112.1,1233.7 1117.3,1259.5 1122.4,1306.1 1127.6,1330.5 1132.8,1319.7 1137.9,1286.1 1143.1,1242.5 1148.2,1235.9 1153.4,1286.1 1158.5,1337.7 1163.7,1329.4 1168.9,1264.5 1174.0,1211.6 1179.2,1221.7 1184.3,1270.3 1189.5,1304.1 1194.6,1295.8 1199.8,1251.2 1205.0,1222.4 1210.6,1235.4 1215.8,1276.1 1220.4,1307.4 1225.6,1309.1 1230.7,1272.8 1235.9,1236.7 1241.4,1233.7 1246.6,1261.2 1251.7,1296.4 1256.9,1307.4 1262.0,1270.3 1267.2,1244.5 1272.3,1250.7 1277.5,1253.7 1282.7,1260.7 1287.8,1293.9 1293.0,1304.9 1298.1,1262.8 1303.3,1229.9 1308.4,1249.5 1313.6,1297.3 1318.8,1312.7 1323.9,1281.1 1329.1,1261.2 1334.2,1277.8 1339.4,1292.8 1344.5,1304.4 1349.7,1314.7 1354.9,1292.8 1360.0,1260.3 1365.2,1254.0 1370.3,1255.7 1375.5,1268.7 1380.6,1289.5 1385.8,1290.0 1390.9,1272.8 1396.1,1248.7 1401.2,1240.0 1406.4,1279.5 1411.6,1318.9 1416.7,1283.6 1421.9,1205.4 1427.0,1195.0 1432.2,1262.8 1437.3,1313.1 1442.5,1312.4 1447.7,1271.2 1452.8,1230.4 1458.3,1238.4 1463.5,1301.1 1468.6,1356.0 1473.8,1336.9 1478.9,1247.9 1484.1,1198.0 1489.2,1232.9 1494.4,1316.1 1499.6,1355.7 1504.7,1324.4 1509.9,1247.9 1515.0,1187.1 1520.2,1198.8 1525.3,1299.4 1530.5,1362.3 1535.7,1320.2 1540.8,1233.2 1546.0,1220.1 1551.1,1259.5 1556.3,1294.4 1561.5,1319.9 1566.6,1323.9 1571.8,1284.5 1576.9,1225.7 1582.1,1222.9 1587.2,1276.1 1592.4,1323.2 1597.9,1319.4 1603.0,1256.2 1608.2,1183.8 1613.4,1194.6 1618.5,1279.5 1623.3,1329.1 1628.8,1300.3 1634.0,1249.0 1639.1,1240.7 1644.3,1271.2 1649.5,1296.9 1654.6,1313.6 1659.8,1326.9 1664.9,1316.1 1670.1,1282.0 1675.2,1261.7 1680.4,1277.0 1685.6,1304.4 1690.7,1296.1 1695.9,1256.2 1701.0,1222.1 1706.2,1204.6 1711.3,1218.8 1716.5,1252.9 1721.6,1281.6 1726.8,1286.5 1731.9,1252.9 1737.1,1226.2 1742.3,1263.7 1747.4,1323.2 1752.6,1314.9 1757.7,1260.3 1762.9,1242.9 1768.0,1271.7 1773.2,1288.1 1778.4,1272.0 1783.5,1262.0 1788.7,1277.0 1793.8,1287.8 1799.0,1272.0 1804.1,1252.4 1809.3,1249.0 1814.5,1262.8 1819.6,1281.1 1824.8,1280.3 1829.9,1246.2 1835.1,1214.9 1840.6,1233.7 1845.4,1286.1 1850.6,1304.9 1855.7,1282.0 1860.9,1267.5 1866.0,1271.2 1871.2,1291.1 1876.3,1314.4 1881.5,1296.6 1886.7,1247.0 1891.8,1235.7 1897.0,1267.8 1902.1,1291.5 1907.3,1290.0 1912.4,1282.8 1917.6,1273.3 1922.8,1249.5 1927.9,1221.2 1933.4,1233.7 1938.6,1289.5 1943.7,1332.7 1948.9,1314.4 1954.0,1263.7 1959.2,1239.2 1964.4,1249.5 1969.5,1279.5 1974.7,1305.3 1979.8,1300.3 1985.0,1274.5 1990.1,1257.0 1995.3,1255.8 2000.5,1264.5 2005.6,1278.6 2010.8,1281.1 2015.9,1263.3 2021.1,1259.8 2026.2,1283.6 2031.4,1290.0 2036.6,1267.0 2041.7,1254.0 2046.9,1254.5 2052.0,1254.0 2057.2,1271.2 2062.3,1305.6 2067.5,1318.6 2072.6,1292.8 2077.8,1258.2 2083.3,1255.8 2088.4,1282.8 2093.6,1305.6 2098.7,1301.1 2103.9,1266.2 2109.0,1233.7 2112.7,1232.6"/>
<polyline stroke="#808080" stroke-width="2.1" points="304.5,1435.7 311.3,1426.4 316.6,1426.7 322.1,1432.7 327.3,1441.0 332.4,1444.7 337.6,1437.2 342.8,1425.7 347.9,1428.1 358.2,1458.5 363.4,1463.5 368.5,1459.8 379.0,1398.6 384.3,1392.0 394.2,1471.5 399.5,1462.7 409.6,1403.6 414.8,1397.0 419.9,1423.6 425.1,1471.8 430.6,1486.0 440.9,1410.3 445.9,1393.6 451.1,1415.3 456.2,1458.5 461.4,1481.8 466.5,1455.2 476.8,1386.1 487.2,1453.5 492.3,1471.5 497.5,1458.5 508.0,1380.3 513.3,1383.6 523.4,1496.8 528.9,1497.3 539.1,1394.5 544.2,1385.0 549.4,1411.9 559.7,1496.4 564.9,1493.4 570.0,1451.9 575.2,1430.6 580.3,1445.5 585.5,1456.3 590.6,1438.5 601.0,1385.3 606.1,1392.0 616.4,1480.1 621.6,1466.8 626.7,1418.6 631.9,1394.5 637.1,1400.3 647.4,1473.5 652.7,1503.4 657.8,1487.1 668.1,1360.7 673.5,1346.2 678.6,1385.3 688.8,1511.4 693.9,1498.4 704.2,1414.1 709.6,1406.9 714.7,1425.2 719.9,1451.9 725.0,1465.2 730.2,1462.2 735.3,1443.5 740.5,1412.8 745.7,1395.3 750.8,1418.6 756.0,1448.5 761.1,1447.7 766.3,1432.7 771.4,1423.6 776.8,1418.6 781.9,1435.7 787.1,1469.0 792.2,1478.1 802.6,1422.7 807.7,1419.7 812.9,1440.2 818.0,1453.5 823.2,1444.4 833.5,1388.1 838.8,1401.1 849.1,1493.8 854.3,1485.6 864.6,1378.3 869.8,1370.3 880.1,1464.0 885.2,1483.5 890.4,1461.8 895.6,1424.9 900.7,1420.6 905.9,1453.5 911.0,1481.5 916.2,1467.3 926.5,1375.3 931.7,1364.8 942.0,1480.1 947.1,1491.3 957.4,1405.3 962.8,1391.1 973.1,1459.7 978.2,1458.2 983.4,1418.6 988.6,1393.3 993.9,1408.6 1004.0,1493.4 1009.3,1498.4 1014.5,1463.5 1019.5,1419.4 1024.6,1405.3 1029.8,1431.9 1034.9,1468.0 1040.1,1464.7 1050.4,1387.8 1055.7,1393.6 1066.0,1466.3 1071.2,1458.0 1076.4,1421.9 1081.5,1395.6 1086.8,1402.3 1097.0,1457.8 1102.1,1454.5 1107.3,1431.1 1112.6,1414.9 1117.8,1417.8 1122.9,1443.5 1127.9,1476.8 1133.3,1478.5 1143.4,1405.3 1148.7,1407.8 1153.9,1435.2 1159.0,1452.7 1164.2,1444.7 1169.4,1423.6 1174.5,1415.8 1179.7,1430.2 1184.8,1451.4 1190.2,1454.9 1195.3,1440.2 1200.5,1429.9 1205.8,1432.4 1210.8,1443.2 1215.9,1448.2 1221.1,1440.2 1226.3,1435.7 1231.4,1435.2 1236.6,1431.9 1241.7,1432.2 1246.9,1438.0 1252.0,1441.0 1257.2,1438.5 1262.4,1432.7 1267.5,1432.4 1272.7,1437.4 1277.8,1438.5 1283.0,1438.9 1288.1,1442.4 1293.3,1443.5 1303.6,1432.7 1308.8,1438.0 1313.9,1446.5 1319.1,1444.4 1324.2,1433.2 1329.4,1427.7 1334.6,1424.1 1339.7,1413.9 1345.2,1413.9 1355.4,1449.4 1360.5,1445.2 1365.7,1436.4 1370.8,1435.2 1376.0,1437.7 1381.1,1442.2 1386.3,1449.4 1391.4,1452.9 1396.6,1446.0 1401.7,1434.9 1406.9,1429.7 1412.1,1432.4 1422.4,1427.7 1432.7,1450.2 1443.0,1424.4 1448.2,1424.9 1453.3,1430.7 1463.6,1435.6 1468.8,1436.6 1479.1,1419.1 1484.4,1422.2 1499.9,1450.2 1505.1,1448.2 1510.2,1437.2 1515.4,1431.4 1520.5,1437.2 1525.7,1448.5 1530.8,1457.2 1536.0,1453.9 1541.2,1441.4 1546.3,1433.6 1551.5,1436.4 1556.6,1438.5 1561.8,1435.7 1566.9,1435.2 1572.1,1436.4 1577.3,1436.2 1582.4,1434.1 1587.6,1432.4 1592.7,1434.4 1597.9,1436.4 1608.2,1449.4 1613.4,1437.7 1618.5,1418.9 1623.8,1416.9 1629.0,1429.4 1634.2,1439.9 1639.3,1440.5 1644.5,1435.2 1649.6,1436.1 1654.8,1440.5 1659.9,1434.9 1665.1,1428.1 1670.3,1433.6 1675.4,1444.0 1680.6,1446.9 1685.7,1440.7 1690.9,1432.7 1696.0,1430.7 1701.2,1433.6 1711.5,1426.1 1722.0,1440.5 1732.3,1433.6 1742.8,1448.5 1747.9,1433.6 1752.9,1415.6 1758.2,1423.9 1763.4,1447.2 1768.5,1455.5 1773.7,1441.9 1778.9,1425.6 1784.0,1415.3 1789.3,1419.1 1794.5,1439.0 1799.7,1454.7 1804.8,1451.9 1810.0,1447.2 1815.1,1445.2 1825.4,1419.9 1830.8,1429.4 1835.9,1447.4 1841.1,1448.0 1846.2,1433.6 1851.1,1428.6 1856.4,1437.4 1861.5,1437.4 1866.7,1425.6 1871.9,1423.2 1877.0,1431.6 1882.2,1434.1 1887.7,1431.6 1892.5,1433.6 1897.6,1436.9 1902.8,1432.7 1908.0,1424.4 1913.3,1427.7 1918.4,1440.2 1923.6,1446.5 1928.8,1443.5 1933.9,1436.9 1939.1,1425.2 1944.2,1420.6 1954.5,1453.0 1959.7,1449.0 1964.9,1436.9 1970.0,1431.1 1975.2,1433.6 1985.5,1439.9 1990.6,1444.5 1995.8,1444.0 2001.0,1432.7 2006.1,1422.7 2011.3,1430.7 2016.4,1441.5 2021.6,1441.5 2031.9,1426.6 2037.1,1429.1 2042.2,1443.5 2047.4,1450.2 2057.7,1427.4 2062.8,1431.6 2068.1,1443.2 2073.3,1445.7 2078.4,1441.4 2083.6,1441.9 2088.7,1440.5 2093.9,1434.7 2099.1,1434.7 2104.2,1439.0 2109.4,1441.5 2112.7,1443.2"/>
<polyline stroke="#808080" stroke-width="2.1" points="304.5,1439.0 310.8,1448.8 316.1,1446.0 321.3,1438.8 326.5,1431.5 331.6,1430.2 336.8,1436.5 341.9,1437.3 347.1,1429.0 352.2,1430.5 357.4,1440.5 362.6,1439.8 367.7,1434.8 372.9,1436.3 378.0,1437.8 383.2,1436.3 388.3,1432.7 393.5,1435.2 398.7,1446.0 403.8,1450.1 409.0,1442.1 414.1,1434.3 419.3,1430.5 424.4,1431.3 429.6,1429.7 434.8,1426.8 439.9,1443.5 445.1,1462.6 450.2,1454.8 455.4,1437.3 460.5,1431.5 465.7,1424.3 470.9,1419.8 476.0,1435.2 481.2,1449.8 486.3,1441.8 491.5,1426.3 496.6,1436.8 501.8,1460.9 507.0,1459.8 512.1,1437.7 517.3,1424.3 522.4,1422.7 527.6,1427.3 532.7,1440.1 537.9,1445.5 543.1,1431.8 548.2,1421.5 553.4,1435.2 558.5,1452.1 563.7,1453.0 568.8,1438.5 574.0,1426.0 579.2,1422.7 584.3,1428.5 589.5,1434.8 594.6,1435.5 599.8,1438.8 604.9,1443.8 610.1,1437.7 615.3,1437.2 620.4,1452.3 625.6,1458.1 630.7,1438.5 635.9,1418.9 641.0,1417.2 646.2,1427.7 651.4,1438.2 656.5,1446.0 661.7,1444.3 666.8,1432.7 672.1,1424.0 677.3,1429.7 682.4,1437.3 687.6,1436.3 692.8,1437.3 697.9,1441.8 703.1,1431.8 708.2,1415.5 713.6,1419.4 718.7,1441.5 723.9,1453.5 729.0,1444.3 734.2,1425.2 739.3,1415.7 744.5,1423.2 749.7,1438.8 754.8,1439.6 760.0,1416.9 765.1,1396.4 770.3,1414.4 775.4,1460.1 780.8,1484.7 785.9,1461.8 796.2,1416.9 801.4,1409.7 806.7,1416.4 811.9,1461.8 817.0,1507.0 822.2,1485.9 827.3,1408.5 832.5,1369.9 837.7,1397.7 842.8,1443.5 848.0,1473.4 853.1,1474.6 858.3,1446.8 863.4,1413.5 868.6,1400.2 873.8,1416.9 878.9,1451.8 884.1,1460.9 889.2,1426.8 894.4,1389.7 899.5,1391.6 904.7,1436.8 909.9,1497.5 915.0,1515.0 920.2,1463.4 925.3,1379.4 930.7,1358.3 935.8,1403.5 941.0,1480.1 946.1,1525.8 951.3,1506.7 956.4,1440.1 961.6,1378.9 966.9,1386.4 972.1,1436.8 977.2,1466.3 982.4,1447.6 987.6,1401.1 992.7,1386.6 997.9,1423.5 1003.0,1469.3 1008.2,1480.1 1013.3,1458.9 1018.5,1419.4 1023.6,1397.7 1028.8,1421.8 1033.9,1462.1 1039.1,1471.4 1044.3,1446.0 1049.4,1411.0 1054.6,1391.9 1059.9,1410.2 1065.0,1456.8 1070.2,1488.1 1075.4,1461.8 1080.5,1403.5 1085.7,1384.1 1090.8,1426.8 1096.0,1468.8 1101.2,1469.6 1106.3,1431.8 1111.5,1392.4 1116.6,1390.6 1121.8,1443.5 1126.9,1497.5 1132.1,1498.9 1137.3,1450.1 1142.4,1399.4 1147.6,1390.6 1152.7,1420.2 1157.9,1464.3 1163.0,1483.4 1168.2,1457.6 1173.4,1408.5 1178.5,1380.3 1183.7,1403.5 1188.8,1452.6 1194.0,1468.4 1199.1,1441.8 1204.3,1426.8 1209.6,1436.0 1214.6,1444.0 1219.8,1438.8 1224.9,1428.5 1230.1,1426.3 1235.2,1448.5 1240.4,1478.9 1245.7,1479.2 1250.9,1450.1 1256.0,1411.9 1261.2,1382.8 1266.5,1383.6 1271.7,1423.5 1276.8,1464.8 1282.0,1467.6 1287.1,1437.7 1292.3,1423.5 1297.5,1431.0 1302.6,1427.3 1307.8,1417.2 1312.9,1430.2 1318.1,1453.1 1323.2,1457.1 1328.4,1452.6 1333.6,1449.3 1338.7,1435.2 1343.9,1418.0 1349.0,1417.2 1354.2,1431.8 1359.3,1444.3 1364.5,1452.1 1369.8,1451.3 1375.0,1428.5 1380.1,1406.0 1385.3,1416.5 1390.4,1451.0 1395.6,1465.1 1400.7,1435.2 1405.9,1403.5 1411.2,1406.9 1416.4,1440.1 1421.5,1475.4 1426.7,1490.9 1431.9,1474.3 1437.0,1441.8 1442.2,1418.2 1447.3,1409.4 1452.5,1419.0 1457.6,1436.8 1462.8,1449.3 1468.0,1442.3 1473.1,1423.0 1478.3,1412.7 1483.4,1412.2 1488.6,1409.7 1493.7,1409.0 1498.9,1421.5 1504.1,1438.5 1509.2,1438.8 1514.4,1437.2 1519.5,1456.0 1524.7,1471.4 1529.8,1451.0 1535.0,1431.8 1540.2,1445.1 1545.3,1464.3 1550.5,1456.0 1555.6,1433.5 1560.8,1418.5 1565.9,1425.2 1571.1,1445.1 1576.3,1448.0 1581.4,1430.2 1586.6,1421.0 1591.7,1419.0 1596.9,1415.7 1602.0,1426.8 1607.2,1446.8 1612.4,1448.8 1617.5,1429.3 1622.7,1413.5 1627.8,1425.2 1633.0,1447.3 1638.1,1462.1 1643.3,1454.3 1648.5,1426.8 1653.6,1408.9 1658.8,1422.7 1663.9,1437.2 1669.1,1431.5 1674.2,1429.3 1679.4,1440.1 1684.6,1447.3 1689.7,1440.1 1694.9,1428.5 1700.0,1426.5 1705.2,1437.7 1710.3,1446.8 1715.5,1442.6 1720.6,1446.3 1725.8,1457.3 1731.4,1454.8 1736.6,1434.3 1741.8,1415.2 1746.9,1411.9 1752.1,1425.2 1757.2,1433.5 1762.4,1429.3 1767.5,1430.2 1772.7,1441.3 1777.9,1449.0 1783.0,1450.6 1788.2,1451.5 1793.3,1445.1 1798.5,1430.7 1803.6,1419.8 1808.8,1428.0 1814.0,1448.1 1819.1,1453.0 1824.3,1437.7 1829.4,1424.3 1834.6,1420.5 1839.7,1422.7 1844.9,1428.2 1850.1,1434.3 1855.2,1441.8 1860.4,1453.5 1865.5,1458.9 1870.7,1455.5 1875.8,1452.3 1881.0,1447.6 1886.2,1437.3 1891.3,1428.2 1896.5,1427.3 1901.6,1439.3 1906.8,1450.5 1911.9,1436.8 1917.1,1417.7 1922.3,1415.5 1927.4,1421.0 1932.6,1426.8 1937.7,1441.0 1942.9,1456.8 1948.1,1453.0 1953.2,1435.2 1958.4,1416.9 1963.5,1414.9 1968.7,1437.7 1973.8,1465.1 1979.0,1469.3 1984.2,1441.8 1989.3,1412.2 1994.5,1408.9 1999.6,1426.8 2004.8,1437.2 2009.9,1430.7 2015.1,1425.2 2020.3,1425.7 2025.4,1430.7 2030.6,1438.8 2035.7,1431.8 2040.9,1419.4 2046.0,1431.5 2051.2,1450.1 2056.4,1447.6 2061.5,1436.3 2066.7,1427.7 2072.3,1422.7 2077.4,1440.1 2082.6,1465.1 2087.8,1458.8 2092.9,1424.3 2098.1,1412.4 2103.2,1426.0 2108.4,1436.0 2112.7,1440.6"/>
<polyline stroke="#808080" stroke-width="2.1" points="304.5,1422.6 310.8,1410.6 316.1,1400.3 321.6,1406.5 326.6,1433.1 331.6,1462.2 336.9,1472.2 342.1,1457.2 347.2,1433.9 352.4,1426.4 357.6,1449.7 362.7,1469.7 367.9,1470.2 373.0,1436.4 378.2,1402.3 383.3,1399.0 388.5,1439.7 393.7,1478.8 399.0,1489.3 404.1,1463.0 409.3,1425.6 414.5,1412.3 419.6,1433.1 424.8,1458.5 429.9,1457.7 435.1,1423.1 440.2,1384.8 445.4,1384.0 450.6,1419.8 455.7,1457.5 460.9,1460.5 466.0,1434.8 471.2,1413.1 476.3,1420.6 481.5,1451.4 486.7,1475.0 491.8,1461.4 497.0,1423.1 502.1,1401.5 507.3,1409.8 512.4,1439.7 517.6,1465.5 522.8,1462.5 527.9,1441.4 533.1,1429.8 538.2,1435.9 543.4,1445.9 548.5,1445.6 553.7,1431.8 558.9,1416.5 564.0,1413.5 569.2,1425.6 574.3,1439.7 579.5,1447.6 584.7,1443.1 589.8,1436.4 595.0,1440.6 600.1,1451.1 605.3,1455.2 610.4,1443.9 615.6,1420.6 620.8,1403.1 625.9,1408.1 631.1,1423.9 636.2,1442.6 641.4,1439.7 646.5,1419.0 651.7,1411.5 656.9,1425.6 662.0,1443.1 667.2,1459.7 672.8,1471.9 677.9,1470.5 683.1,1446.4 688.3,1413.6 693.4,1406.5 698.6,1434.8 703.7,1457.2 708.9,1453.9 714.1,1434.8 719.2,1422.3 724.4,1424.3 729.5,1429.8 734.7,1427.3 739.8,1427.4 745.0,1443.9 750.2,1468.0 755.3,1475.2 760.5,1457.2 765.6,1426.4 770.8,1406.0 776.1,1410.1 781.3,1436.4 786.4,1460.0 791.6,1456.1 796.7,1423.1 801.9,1393.7 807.0,1399.8 812.2,1439.7 817.4,1474.7 822.5,1468.0 827.7,1423.1 832.8,1378.2 838.0,1378.2 843.2,1436.4 848.3,1501.3 853.6,1512.4 858.8,1469.7 863.9,1399.8 869.1,1370.2 874.3,1394.0 879.4,1448.9 884.6,1478.0 889.7,1453.9 894.9,1403.1 900.0,1389.8 905.2,1436.4 910.4,1496.3 915.5,1519.3 920.7,1483.0 925.8,1419.0 931.0,1391.5 936.1,1414.8 941.3,1452.2 946.5,1458.9 951.6,1431.4 956.8,1405.3 961.9,1411.5 967.1,1443.1 972.2,1470.5 977.4,1458.9 982.6,1414.8 987.7,1377.0 993.0,1384.0 998.2,1421.4 1003.4,1454.7 1008.5,1451.4 1013.6,1426.4 1018.8,1409.8 1024.1,1429.8 1029.3,1483.0 1034.4,1520.9 1039.6,1489.7 1044.8,1403.1 1049.9,1346.1 1055.2,1350.2 1060.4,1411.5 1065.5,1467.2 1070.7,1479.7 1075.9,1446.4 1081.0,1414.0 1086.2,1423.1 1091.3,1469.7 1096.5,1502.5 1101.6,1487.2 1106.8,1434.8 1112.0,1390.2 1117.3,1394.8 1122.4,1441.4 1127.6,1476.3 1132.8,1464.4 1137.6,1433.1 1142.7,1422.3 1147.9,1437.3 1153.1,1455.9 1158.2,1456.4 1163.4,1431.4 1168.5,1393.2 1173.7,1374.9 1178.8,1398.2 1184.0,1443.9 1189.2,1462.7 1194.3,1444.7 1199.6,1425.1 1204.8,1438.1 1210.0,1467.2 1215.1,1473.5 1220.3,1441.4 1225.4,1394.0 1230.6,1367.4 1235.9,1376.5 1241.1,1411.5 1246.2,1448.9 1251.4,1471.9 1256.5,1469.4 1261.7,1452.2 1266.8,1443.1 1272.0,1452.2 1277.2,1461.7 1282.3,1451.4 1287.5,1431.1 1292.6,1429.3 1297.8,1454.7 1303.0,1481.3 1308.3,1480.8 1313.4,1459.7 1318.6,1429.8 1323.7,1417.3 1328.9,1432.3 1334.1,1456.4 1339.2,1456.7 1344.4,1426.4 1349.5,1399.8 1354.7,1395.3 1359.8,1409.8 1365.0,1423.6 1370.1,1423.4 1375.3,1409.0 1380.4,1400.7 1385.6,1413.1 1390.8,1429.3 1395.9,1430.1 1401.1,1417.3 1406.2,1409.5 1411.6,1423.9 1416.7,1458.0 1421.9,1486.0 1427.0,1486.8 1432.2,1467.2 1437.3,1449.7 1442.5,1446.9 1447.7,1459.2 1452.8,1469.4 1458.0,1460.5 1463.1,1431.4 1468.3,1395.7 1473.4,1384.3 1478.6,1406.5 1483.8,1434.3 1488.9,1440.6 1494.1,1427.3 1499.2,1409.5 1504.4,1405.6 1509.5,1432.3 1514.7,1473.9 1519.9,1488.3 1525.0,1466.4 1530.2,1432.3 1535.3,1410.3 1540.5,1414.8 1545.6,1444.7 1550.8,1466.7 1556.0,1456.4 1561.1,1434.8 1566.3,1426.8 1571.4,1435.9 1576.6,1444.7 1581.7,1434.8 1586.9,1406.5 1592.1,1386.2 1597.6,1388.2 1602.7,1418.1 1607.9,1464.7 1613.0,1492.7 1618.2,1481.3 1623.3,1443.1 1628.5,1413.1 1633.7,1406.8 1638.8,1422.3 1644.0,1444.7 1649.1,1455.6 1654.3,1448.1 1659.4,1425.6 1664.6,1407.0 1669.8,1405.3 1674.9,1419.0 1680.1,1431.8 1685.2,1433.9 1690.4,1429.8 1695.9,1435.3 1701.0,1458.0 1706.2,1479.3 1711.0,1476.8 1716.2,1456.4 1721.3,1438.1 1726.5,1423.1 1731.6,1416.5 1736.8,1432.3 1741.9,1451.4 1747.1,1456.7 1752.2,1453.6 1757.4,1450.6 1762.6,1440.6 1767.7,1424.8 1772.9,1409.8 1778.0,1399.3 1783.2,1406.5 1788.3,1425.6 1793.5,1437.3 1798.7,1434.3 1803.8,1430.1 1809.0,1431.8 1814.1,1438.9 1819.3,1447.7 1824.4,1455.1 1829.6,1458.4 1834.8,1452.6 1839.9,1442.2 1845.1,1438.1 1850.2,1440.6 1855.4,1440.6 1860.5,1432.3 1865.7,1419.8 1870.9,1412.0 1876.0,1413.6 1881.2,1424.3 1886.3,1433.9 1891.5,1432.3 1896.6,1420.6 1901.8,1408.1 1907.0,1401.5 1912.1,1408.1 1917.3,1420.6 1922.4,1433.1 1927.6,1444.7 1932.7,1453.1 1937.9,1459.7 1943.1,1467.5 1948.2,1467.5 1953.4,1455.6 1958.5,1445.6 1963.7,1449.7 1968.8,1457.7 1974.0,1455.9 1979.2,1443.9 1984.3,1431.9 1989.5,1426.1 1994.6,1431.4 1999.8,1441.9 2004.9,1445.6 2010.1,1438.9 2015.3,1431.8 2020.4,1428.9 2025.6,1432.6 2030.7,1440.6 2035.9,1442.2 2041.0,1433.1 2046.2,1422.3 2051.4,1420.6 2056.5,1427.3 2061.7,1433.9 2066.8,1439.7 2072.6,1446.1 2077.8,1446.7 2082.9,1438.9 2088.1,1430.9 2093.2,1426.4 2098.4,1423.6 2103.6,1424.4 2108.7,1428.9 2112.7,1433.1"/>
<polyline stroke="#808080" stroke-width="2.1" points="304.5,1414.4 310.5,1385.8 315.8,1400.3 321.0,1444.3 326.1,1480.6 331.3,1479.3 336.4,1442.7 341.6,1409.4 346.7,1413.1 351.9,1434.4 357.1,1450.7 362.2,1451.3 367.4,1426.0 372.5,1403.6 377.7,1417.7 382.8,1445.5 388.0,1450.2 393.2,1446.8 398.3,1449.3 403.5,1446.0 408.6,1440.2 413.8,1438.8 419.0,1430.2 424.1,1417.7 429.3,1414.1 434.4,1407.7 439.6,1404.4 444.7,1434.4 449.9,1475.6 455.1,1477.1 460.2,1451.0 465.4,1431.5 470.5,1426.9 475.7,1438.5 480.8,1454.3 486.0,1456.0 491.2,1436.0 496.3,1416.1 501.5,1408.6 506.6,1411.1 511.8,1418.9 516.9,1442.7 522.1,1470.6 527.3,1470.1 532.4,1444.3 537.6,1428.5 542.7,1427.2 547.9,1417.7 553.0,1408.6 558.2,1418.1 563.4,1429.4 568.5,1431.5 573.7,1440.7 578.8,1457.6 584.0,1470.1 589.1,1466.0 594.3,1444.3 599.5,1420.7 604.6,1422.2 609.8,1439.7 614.9,1437.2 620.1,1413.6 625.2,1405.2 630.4,1436.0 635.6,1468.5 640.7,1465.1 645.9,1456.0 651.0,1445.2 656.2,1416.1 661.3,1401.6 666.5,1429.4 672.0,1449.3 677.1,1436.0 682.3,1408.6 687.9,1408.9 692.8,1439.3 697.9,1461.0 703.1,1455.2 708.2,1428.5 713.4,1417.7 718.5,1441.0 723.7,1460.1 728.9,1448.0 734.0,1423.9 739.2,1414.9 744.3,1431.0 749.5,1450.5 754.6,1444.0 759.8,1427.7 765.0,1430.5 770.1,1438.5 775.3,1450.2 780.4,1468.5 785.8,1474.8 790.9,1449.3 796.1,1411.9 801.2,1392.4 806.5,1394.8 811.7,1421.0 816.9,1464.3 822.0,1487.9 827.2,1459.3 832.3,1401.1 837.5,1374.0 842.7,1404.4 847.8,1450.2 853.0,1469.6 858.1,1465.6 863.3,1436.9 868.4,1414.4 873.6,1432.7 878.8,1453.5 883.9,1448.5 889.1,1431.0 894.2,1408.6 899.5,1405.2 904.7,1442.7 909.9,1488.4 915.0,1500.6 920.2,1451.0 925.3,1384.9 930.5,1375.0 935.6,1439.3 940.8,1494.7 946.0,1483.8 951.1,1426.0 956.3,1390.8 961.6,1396.9 966.8,1431.0 971.9,1461.8 977.1,1469.3 982.2,1427.7 987.1,1381.1 992.4,1357.8 997.5,1411.1 1002.7,1519.2 1007.8,1525.9 1013.0,1422.7 1018.1,1350.3 1023.5,1375.3 1028.6,1461.0 1033.8,1503.1 1038.9,1479.3 1044.1,1436.0 1049.2,1407.7 1054.4,1398.6 1059.6,1427.7 1064.7,1470.6 1069.9,1456.0 1075.0,1405.7 1080.2,1393.3 1085.3,1413.6 1090.5,1440.2 1095.7,1480.1 1100.8,1495.9 1106.0,1446.0 1111.1,1373.3 1116.3,1361.2 1121.4,1422.7 1126.6,1477.6 1131.8,1473.0 1136.9,1444.3 1142.1,1428.2 1147.2,1415.7 1152.6,1414.7 1157.7,1436.0 1162.9,1458.1 1168.0,1466.0 1173.2,1450.2 1178.3,1418.1 1183.5,1419.4 1188.7,1455.2 1193.8,1464.3 1199.0,1446.0 1204.1,1440.7 1209.3,1434.9 1214.4,1423.5 1219.6,1419.9 1224.8,1417.7 1229.9,1431.0 1235.1,1466.0 1240.2,1478.1 1245.4,1442.7 1250.5,1394.9 1255.7,1382.3 1260.9,1419.4 1266.0,1455.5 1271.2,1453.0 1276.3,1441.8 1281.5,1448.0 1286.6,1438.0 1291.8,1404.9 1297.1,1399.9 1302.3,1442.7 1307.4,1476.4 1312.6,1465.1 1317.8,1435.2 1322.9,1421.9 1328.1,1432.4 1333.2,1442.3 1338.4,1439.3 1343.5,1439.7 1348.7,1441.3 1353.9,1426.0 1359.0,1411.9 1364.2,1417.7 1369.8,1434.4 1375.0,1456.0 1379.8,1473.5 1384.9,1452.7 1390.1,1414.4 1395.3,1386.1 1400.6,1388.9 1405.7,1431.0 1410.9,1467.6 1416.0,1461.0 1421.2,1433.9 1426.4,1428.2 1431.5,1445.5 1436.7,1450.5 1441.8,1434.4 1447.0,1424.9 1452.1,1433.5 1457.3,1439.3 1462.5,1434.0 1467.6,1436.0 1472.8,1442.7 1477.9,1436.5 1483.1,1428.5 1488.2,1441.0 1493.4,1462.1 1498.6,1467.6 1503.7,1453.5 1508.9,1435.2 1514.0,1423.0 1519.2,1420.7 1524.4,1426.9 1529.5,1435.5 1534.7,1434.7 1539.8,1424.4 1545.0,1406.1 1550.1,1403.2 1555.3,1436.0 1560.5,1465.6 1565.6,1451.0 1570.8,1413.6 1575.9,1396.4 1581.1,1416.1 1586.2,1455.2 1591.4,1473.5 1596.6,1452.7 1602.0,1418.1 1607.2,1418.6 1612.4,1454.3 1617.5,1477.6 1622.7,1471.0 1627.8,1455.2 1633.0,1444.3 1638.1,1437.7 1643.3,1431.9 1648.5,1428.5 1653.6,1422.7 1658.8,1414.7 1663.9,1426.9 1669.1,1438.8 1674.2,1420.2 1679.4,1406.1 1684.6,1425.2 1689.7,1447.3 1694.9,1447.2 1700.0,1434.7 1705.2,1431.0 1710.3,1436.4 1715.5,1434.4 1720.6,1433.9 1725.8,1435.5 1730.9,1429.7 1736.1,1438.0 1741.3,1466.0 1746.6,1469.8 1751.7,1434.4 1756.9,1401.4 1762.1,1411.6 1767.2,1452.7 1772.4,1465.1 1777.5,1433.5 1782.7,1414.9 1787.8,1436.0 1793.0,1463.8 1798.2,1468.5 1803.3,1442.7 1808.5,1402.7 1813.6,1374.0 1818.8,1382.3 1823.9,1427.7 1829.1,1482.6 1834.4,1500.6 1839.6,1456.0 1844.7,1388.6 1849.9,1374.5 1855.1,1419.4 1860.2,1462.3 1865.4,1445.2 1870.5,1411.9 1875.7,1411.1 1880.8,1434.4 1886.0,1453.5 1891.2,1464.8 1896.3,1469.3 1901.5,1452.7 1906.6,1424.4 1911.8,1418.9 1916.9,1447.7 1922.1,1478.1 1927.3,1486.8 1932.4,1462.6 1937.6,1421.0 1942.7,1380.8 1947.9,1377.0 1953.0,1426.0 1958.2,1473.5 1963.4,1477.6 1968.5,1451.0 1973.7,1412.7 1978.8,1383.9 1984.2,1396.9 1989.3,1449.3 1994.5,1496.4 1999.6,1480.4 2004.8,1409.4 2009.9,1365.3 2015.1,1402.7 2020.3,1459.8 2025.4,1475.4 2030.6,1479.3 2035.7,1472.6 2040.9,1422.7 2046.0,1388.9 2051.2,1414.4 2056.4,1451.8 2061.5,1458.5 2066.7,1456.0 2071.8,1441.0 2076.9,1404.4 2082.1,1381.6 2087.4,1400.3 2092.6,1441.0 2097.7,1456.0 2102.9,1433.2 2108.0,1432.7 2112.7,1459.3"/>
<polyline stroke="#808080" stroke-width="2.1" points="304.5,1436.0 316.6,1434.5 331.6,1436.6 342.4,1435.6 353.2,1437.8 364.9,1435.8 373.2,1435.3 384.3,1433.6 394.8,1437.5 399.8,1437.8 409.8,1434.6 414.8,1434.5 431.4,1437.5 435.6,1437.1 446.4,1434.3 459.7,1437.1 464.7,1437.1 482.2,1434.6 496.3,1437.6 508.8,1435.0 527.9,1436.6 544.6,1434.6 559.5,1437.3 572.0,1435.3 584.5,1436.6 606.1,1434.6 621.9,1436.3 636.9,1434.6 651.9,1435.8 656.7,1435.6 666.0,1433.6 668.3,1433.5 684.1,1436.3 694.4,1435.0 699.6,1438.3 704.7,1449.1 709.9,1463.2 715.0,1471.6 720.2,1468.2 725.4,1449.9 730.5,1416.7 735.7,1390.5 740.8,1393.7 746.0,1426.6 751.2,1462.7 756.3,1463.6 761.5,1420.0 766.6,1378.1 771.9,1376.4 777.1,1420.0 782.3,1480.7 787.4,1511.8 792.6,1489.0 797.7,1423.3 802.9,1360.1 808.0,1346.0 813.2,1400.0 818.4,1464.1 823.5,1482.7 828.7,1451.6 833.8,1417.8 839.2,1419.5 844.3,1463.2 849.5,1504.3 854.6,1503.2 859.8,1459.9 864.9,1417.0 870.1,1403.3 875.3,1418.3 880.4,1437.1 885.6,1433.8 890.7,1408.3 895.9,1391.7 901.0,1408.3 906.2,1448.3 911.4,1483.7 916.5,1477.0 921.7,1435.0 926.8,1402.0 932.0,1411.2 937.1,1449.9 942.3,1469.1 947.5,1452.4 952.6,1421.6 957.8,1404.2 962.9,1417.8 968.1,1455.8 973.2,1482.7 978.4,1459.9 983.6,1406.7 988.7,1381.4 993.9,1401.7 999.0,1437.8 1004.2,1450.8 1009.3,1431.6 1014.5,1400.5 1020.0,1401.3 1025.1,1444.9 1030.3,1508.2 1035.4,1521.1 1040.6,1473.2 1045.8,1395.0 1050.9,1352.6 1056.2,1374.2 1061.4,1439.9 1066.5,1499.3 1071.7,1499.8 1076.9,1456.6 1082.0,1417.8 1087.2,1406.7 1092.3,1425.0 1097.5,1443.8 1102.6,1439.6 1107.8,1406.7 1113.0,1397.5 1118.1,1405.8 1123.3,1431.6 1128.4,1456.3 1133.6,1459.9 1138.7,1446.6 1143.9,1437.0 1149.1,1439.6 1154.2,1449.9 1159.4,1457.7 1164.5,1454.4 1169.7,1441.6 1174.8,1432.1 1180.0,1431.3 1185.2,1433.8 1190.3,1432.1 1195.5,1425.0 1200.6,1417.2 1205.8,1414.5 1211.0,1418.0 1216.1,1424.1 1221.3,1430.0 1226.4,1433.8 1231.6,1437.8 1236.7,1444.1 1241.9,1447.8 1247.1,1445.3 1252.2,1439.6 1257.4,1434.1 1262.5,1432.1 1267.7,1434.1 1272.8,1435.8 1278.0,1433.8 1283.2,1431.6 1288.3,1434.1 1293.5,1439.9 1298.6,1445.8 1303.8,1450.4 1308.9,1449.9 1314.1,1442.1 1319.3,1433.8 1324.4,1429.1 1329.6,1425.0 1334.7,1417.5 1339.9,1410.5 1345.9,1413.8 1351.0,1427.5 1356.2,1444.9 1361.3,1455.8 1366.5,1457.9 1371.3,1454.6 1376.5,1451.3 1381.6,1450.8 1386.8,1453.8 1391.9,1453.8 1397.1,1444.1 1402.2,1429.1 1407.4,1420.0 1412.6,1425.0 1417.7,1436.6 1422.9,1444.1 1428.0,1441.1 1433.2,1430.8 1438.3,1421.6 1443.5,1417.5 1448.7,1417.5 1453.8,1415.5 1459.0,1410.0 1464.1,1405.0 1469.3,1407.0 1474.4,1417.5 1479.6,1433.3 1484.8,1447.1 1489.9,1454.1 1495.1,1452.8 1500.2,1449.9 1505.4,1452.1 1510.5,1459.9 1515.7,1467.4 1520.9,1467.4 1526.0,1459.1 1531.2,1451.3 1536.3,1449.1 1541.5,1451.1 1546.6,1451.6 1551.8,1447.8 1557.0,1440.8 1562.1,1431.6 1567.3,1421.6 1572.4,1413.0 1577.6,1405.8 1582.7,1399.2 1587.9,1395.5 1593.1,1398.9 1598.2,1408.3 1603.4,1420.0 1608.5,1429.6 1613.7,1436.1 1618.8,1439.1 1624.0,1440.3 1629.2,1441.6 1634.3,1445.3 1639.5,1449.9 1644.6,1452.8 1649.8,1452.1 1654.9,1449.9 1660.1,1447.8 1665.3,1447.1 1670.4,1446.9 1675.6,1445.4 1680.7,1442.4 1685.9,1439.9 1691.0,1436.6 1696.2,1431.6 1701.4,1426.6 1706.5,1423.8 1711.7,1423.3 1716.8,1423.8 1722.0,1425.3 1727.1,1430.0 1732.3,1436.1 1737.4,1441.6 1742.6,1444.9 1747.7,1447.1 1753.2,1448.3 1758.2,1446.6 1763.4,1442.4 1768.5,1437.8 1773.7,1433.6 1778.9,1430.5 1784.0,1428.6 1789.2,1428.8 1794.3,1430.8 1799.5,1431.6 1804.6,1430.5 1809.8,1429.3 1815.0,1429.5 1820.1,1432.0 1825.3,1436.6 1830.4,1442.4 1835.6,1447.1 1840.7,1449.3 1845.9,1448.6 1851.1,1446.1 1856.2,1441.6 1861.4,1436.6 1866.5,1432.8 1871.7,1430.5 1876.8,1430.0 1882.0,1432.0 1887.2,1433.6 1892.3,1431.6 1897.5,1427.5 1902.6,1424.5 1907.8,1424.5 1912.9,1426.6 1918.1,1429.6 1923.3,1432.1 1928.4,1433.3 1933.6,1432.5 1938.7,1431.3 1943.9,1432.1 1949.0,1435.0 1954.2,1438.3 1959.4,1440.8 1964.5,1442.1 1969.7,1442.6 1974.8,1441.9 1980.0,1440.8 1985.2,1440.3 1990.3,1440.6 1995.5,1440.9 2000.6,1441.6 2005.8,1442.3 2010.9,1442.4 2016.1,1441.3 2021.3,1438.8 2026.4,1436.1 2031.6,1433.8 2036.7,1432.1 2041.9,1431.6 2047.0,1432.5 2052.2,1434.6 2057.4,1436.6 2062.5,1437.3 2067.3,1436.1 2073.3,1432.5 2078.4,1430.0 2083.6,1430.5 2088.7,1433.3 2093.9,1436.6 2099.1,1438.6 2104.2,1438.0 2112.7,1437.1"/>
<polyline stroke="#808080" stroke-width="2.1" points="304.5,1394.6 311.3,1457.8 316.5,1492.3 321.6,1449.5 326.8,1376.0 331.9,1372.7 337.1,1426.2 342.3,1473.7 347.4,1484.5 352.6,1456.2 357.7,1414.6 362.9,1398.0 368.0,1402.1 373.2,1452.9 378.4,1499.4 383.5,1470.3 388.7,1411.3 393.8,1393.5 399.0,1414.6 404.1,1461.2 409.3,1495.3 414.5,1474.5 419.6,1412.9 424.8,1356.7 429.9,1386.3 435.1,1452.9 440.2,1495.6 445.4,1472.0 450.6,1411.3 455.7,1389.6 460.9,1421.2 466.0,1482.8 471.2,1512.7 476.3,1466.2 481.5,1384.6 486.7,1374.3 491.8,1446.2 497.0,1499.4 502.1,1473.7 507.3,1421.2 512.4,1396.3 517.6,1404.3 522.8,1431.2 527.9,1455.4 533.1,1461.2 538.2,1450.4 543.4,1427.9 548.5,1420.1 553.7,1441.2 558.9,1458.3 564.0,1450.4 569.2,1440.7 574.3,1424.6 579.5,1402.9 584.7,1404.6 589.8,1442.9 595.0,1471.2 600.1,1452.9 605.3,1411.3 610.4,1384.6 615.6,1395.5 620.8,1437.9 625.9,1482.0 631.4,1487.5 636.6,1442.9 641.7,1404.9 646.9,1416.3 652.0,1442.0 657.2,1457.5 662.3,1457.3 667.5,1424.6 673.0,1400.0 678.1,1426.2 683.3,1458.7 688.4,1461.2 693.6,1439.5 698.7,1420.1 703.9,1437.9 709.1,1472.8 714.2,1464.5 719.4,1439.5 724.5,1436.7 729.7,1428.7 734.8,1409.9 740.0,1417.4 745.2,1442.0 750.3,1451.7 755.5,1453.2 760.6,1446.2 765.8,1404.6 770.9,1356.9 776.1,1378.0 781.3,1462.8 786.4,1507.8 791.6,1493.6 796.7,1449.5 801.9,1401.6 807.0,1384.3 812.2,1419.6 817.4,1459.5 822.5,1471.7 827.7,1460.0 832.8,1419.6 838.0,1379.3 843.2,1390.8 848.3,1449.5 853.5,1478.3 858.6,1464.5 863.8,1439.5 868.9,1412.9 874.1,1398.3 879.3,1422.9 884.4,1466.2 889.6,1477.5 894.7,1436.2 899.9,1397.1 905.0,1407.9 910.2,1459.5 915.4,1484.1 920.5,1452.9 925.7,1403.8 930.8,1390.0 936.0,1413.8 941.1,1460.3 946.3,1480.3 951.5,1456.2 956.6,1426.2 961.8,1408.8 966.9,1407.1 972.1,1441.2 977.2,1475.8 982.4,1451.2 987.6,1405.4 993.0,1403.8 998.2,1436.2 1003.4,1467.8 1008.5,1477.8 1013.6,1432.9 1018.8,1368.3 1024.5,1371.0 1029.6,1436.2 1034.8,1489.1 1039.9,1488.6 1045.1,1457.8 1050.2,1414.6 1055.4,1386.0 1060.6,1393.5 1065.7,1436.2 1070.9,1473.7 1076.0,1461.2 1081.2,1412.9 1086.3,1389.3 1091.5,1417.9 1096.7,1454.5 1101.8,1450.0 1107.0,1413.8 1112.1,1397.1 1117.3,1422.9 1122.4,1469.5 1127.6,1493.9 1132.8,1483.1 1137.9,1449.5 1143.1,1405.9 1148.2,1399.3 1153.4,1449.5 1158.5,1501.1 1163.7,1492.8 1168.9,1427.9 1174.0,1375.0 1179.2,1385.1 1184.3,1433.7 1189.5,1467.5 1194.6,1459.2 1199.8,1414.6 1205.0,1385.8 1210.6,1398.8 1215.8,1439.5 1220.4,1470.8 1225.6,1472.5 1230.7,1436.2 1235.9,1400.1 1241.4,1397.1 1246.6,1424.6 1251.7,1459.8 1256.9,1470.8 1262.0,1433.7 1267.2,1407.9 1272.3,1414.1 1277.5,1417.1 1282.7,1424.1 1287.8,1457.3 1293.0,1468.3 1298.1,1426.2 1303.3,1393.3 1308.4,1412.9 1313.6,1460.7 1318.8,1476.1 1323.9,1444.5 1329.1,1424.6 1334.2,1441.2 1339.4,1456.2 1344.5,1467.8 1349.7,1478.1 1354.9,1456.2 1360.0,1423.7 1365.2,1417.4 1370.3,1419.1 1375.5,1432.1 1380.6,1452.9 1385.8,1453.4 1390.9,1436.2 1396.1,1412.1 1401.2,1403.4 1406.4,1442.9 1411.6,1482.3 1416.7,1447.0 1421.9,1368.8 1427.0,1358.4 1432.2,1426.2 1437.3,1476.5 1442.5,1475.8 1447.7,1434.6 1452.8,1393.8 1458.3,1401.8 1463.5,1464.5 1468.6,1519.4 1473.8,1500.3 1478.9,1411.3 1484.1,1361.4 1489.2,1396.3 1494.4,1479.5 1499.6,1519.1 1504.7,1487.8 1509.9,1411.3 1515.0,1350.5 1520.2,1362.2 1525.3,1462.8 1530.5,1525.7 1535.7,1483.6 1540.8,1396.6 1546.0,1383.5 1551.1,1422.9 1556.3,1457.8 1561.5,1483.3 1566.6,1487.3 1571.8,1447.9 1576.9,1389.1 1582.1,1386.3 1587.2,1439.5 1592.4,1486.6 1597.9,1482.8 1603.0,1419.6 1608.2,1347.2 1613.4,1358.0 1618.5,1442.9 1623.3,1492.5 1628.8,1463.7 1634.0,1412.4 1639.1,1404.1 1644.3,1434.6 1649.5,1460.3 1654.6,1477.0 1659.8,1490.3 1664.9,1479.5 1670.1,1445.4 1675.2,1425.1 1680.4,1440.4 1685.6,1467.8 1690.7,1459.5 1695.9,1419.6 1701.0,1385.5 1706.2,1368.0 1711.3,1382.2 1716.5,1416.3 1721.6,1445.0 1726.8,1449.9 1731.9,1416.3 1737.1,1389.6 1742.3,1427.1 1747.4,1486.6 1752.6,1478.3 1757.7,1423.7 1762.9,1406.3 1768.0,1435.1 1773.2,1451.5 1778.4,1435.4 1783.5,1425.4 1788.7,1440.4 1793.8,1451.2 1799.0,1435.4 1804.1,1415.8 1809.3,1412.4 1814.5,1426.2 1819.6,1444.5 1824.8,1443.7 1829.9,1409.6 1835.1,1378.3 1840.6,1397.1 1845.4,1449.5 1850.6,1468.3 1855.7,1445.4 1860.9,1430.9 1866.0,1434.6 1871.2,1454.5 1876.3,1477.8 1881.5,1460.0 1886.7,1410.4 1891.8,1399.1 1897.0,1431.2 1902.1,1454.9 1907.3,1453.4 1912.4,1446.2 1917.6,1436.7 1922.8,1412.9 1927.9,1384.6 1933.4,1397.1 1938.6,1452.9 1943.7,1496.1 1948.9,1477.8 1954.0,1427.1 1959.2,1402.6 1964.4,1412.9 1969.5,1442.9 1974.7,1468.7 1979.8,1463.7 1985.0,1437.9 1990.1,1420.4 1995.3,1419.2 2000.5,1427.9 2005.6,1442.0 2010.8,1444.5 2015.9,1426.7 2021.1,1423.2 2026.2,1447.0 2031.4,1453.4 2036.6,1430.4 2041.7,1417.4 2046.9,1417.9 2052.0,1417.4 2057.2,1434.6 2062.3,1469.0 2067.5,1482.0 2072.6,1456.2 2077.8,1421.6 2083.3,1419.2 2088.4,1446.2 2093.6,1469.0 2098.7,1464.5 2103.9,1429.6 2109.0,1397.1 2112.7,1396.0"/>
<polyline stroke="#0000ff" stroke-width="2.2" points="304.5,1435.8 311.3,1432.5 316.6,1433.8 321.6,1438.9 326.6,1441.9 331.6,1440.3 341.6,1434.8 347.4,1433.8 357.4,1437.9 363.2,1439.1 367.9,1438.4 378.2,1430.8 383.2,1433.6 389.0,1438.9 394.0,1438.1 399.3,1434.5 404.0,1435.6 409.3,1438.3 414.8,1436.9 419.8,1436.8 424.8,1439.6 430.1,1440.3 440.6,1432.0 445.9,1433.1 451.1,1437.9 456.1,1438.9 461.0,1435.0 466.4,1432.0 471.4,1433.3 477.2,1435.6 482.2,1436.9 487.2,1436.6 492.2,1435.1 497.1,1435.0 507.1,1436.8 512.9,1436.9 522.9,1434.3 528.3,1434.8 533.7,1437.3 538.7,1437.3 543.7,1435.4 549.0,1436.6 554.5,1440.4 559.5,1440.3 565.0,1437.8 574.5,1437.4 580.3,1435.4 584.8,1435.0 590.3,1436.6 595.6,1437.9 606.1,1433.6 611.1,1434.8 616.1,1436.9 621.9,1438.9 626.9,1438.9 636.9,1433.6 641.9,1432.6 647.4,1434.0 652.4,1443.6 657.3,1455.7 662.6,1439.8 667.8,1400.8 673.0,1363.4 683.3,1446.9 688.3,1475.7 693.6,1473.7 698.7,1479.0 704.1,1482.4 714.2,1444.9 719.4,1440.3 724.5,1428.6 734.8,1378.1 740.3,1377.6 745.3,1412.0 750.3,1466.9 755.6,1483.5 766.0,1415.3 771.1,1407.0 781.8,1453.6 786.8,1473.9 791.9,1470.6 802.1,1393.4 807.4,1401.2 812.5,1443.6 817.7,1472.7 823.0,1459.4 828.0,1420.3 833.2,1398.2 838.3,1410.3 848.6,1491.8 854.0,1495.2 864.1,1400.3 869.3,1372.1 874.6,1386.2 879.8,1425.3 884.7,1446.9 895.1,1404.5 900.4,1416.2 910.7,1499.8 915.9,1493.8 926.2,1405.7 931.3,1398.7 941.6,1479.0 947.0,1485.7 957.1,1402.8 962.4,1401.2 967.4,1440.3 972.6,1473.5 977.7,1458.2 988.1,1346.3 993.4,1349.9 1003.7,1491.8 1008.8,1506.8 1019.1,1412.5 1024.5,1415.0 1034.6,1515.1 1039.9,1508.0 1049.9,1370.7 1055.2,1359.1 1065.4,1456.1 1070.7,1464.1 1081.0,1395.4 1086.2,1398.7 1096.5,1475.5 1101.8,1480.5 1112.0,1397.0 1117.3,1388.2 1127.6,1484.9 1132.8,1490.5 1143.1,1400.3 1148.2,1395.0 1158.5,1471.1 1163.9,1479.9 1174.0,1400.3 1179.2,1387.9 1189.5,1463.6 1194.6,1479.4 1199.8,1458.6 1205.0,1429.5 1210.3,1422.8 1220.4,1459.7 1225.6,1451.1 1230.7,1415.3 1235.9,1389.5 1241.2,1396.2 1246.4,1426.1 1251.5,1445.3 1256.7,1432.0 1261.9,1406.5 1267.0,1400.8 1277.3,1461.9 1282.5,1475.2 1287.6,1453.6 1292.8,1417.0 1298.0,1407.0 1307.8,1478.5 1313.6,1490.5 1323.9,1427.8 1329.1,1424.5 1339.4,1478.9 1344.4,1481.5 1354.9,1422.3 1360.0,1417.0 1370.3,1467.4 1375.5,1461.1 1385.8,1367.9 1390.9,1354.6 1396.1,1375.4 1401.2,1406.2 1406.6,1418.6 1411.7,1405.3 1416.9,1391.7 1422.0,1404.5 1432.4,1490.2 1437.5,1500.7 1447.8,1458.9 1453.1,1460.6 1458.1,1473.5 1463.3,1480.7 1468.5,1472.2 1478.8,1420.0 1483.9,1411.7 1489.1,1420.8 1494.2,1423.3 1499.4,1407.8 1504.6,1391.2 1509.7,1386.5 1514.9,1401.2 1525.2,1454.1 1530.5,1459.7 1540.8,1434.8 1546.0,1440.6 1551.1,1461.1 1556.3,1475.7 1561.5,1468.2 1566.6,1445.3 1571.8,1428.6 1576.9,1423.6 1582.1,1427.8 1587.2,1429.1 1592.4,1422.0 1597.6,1414.5 1602.7,1415.3 1607.9,1427.0 1613.0,1438.3 1618.2,1441.1 1623.3,1439.4 1628.5,1441.9 1638.8,1450.8 1644.0,1450.3 1649.1,1441.1 1654.3,1429.5 1659.4,1426.1 1664.6,1436.1 1669.8,1446.9 1674.9,1442.4 1680.1,1425.3 1685.2,1412.3 1690.5,1412.0 1695.7,1424.5 1700.9,1439.8 1706.0,1444.8 1711.2,1435.3 1716.5,1423.6 1721.6,1424.0 1731.9,1461.1 1737.1,1465.7 1742.3,1452.8 1747.4,1434.5 1752.6,1424.1 1757.7,1430.0 1762.9,1444.1 1768.0,1451.9 1773.2,1446.1 1778.4,1433.6 1783.7,1424.1 1788.8,1425.1 1794.0,1434.5 1799.2,1441.1 1804.3,1438.3 1809.5,1432.0 1814.6,1432.3 1819.8,1437.8 1824.9,1441.6 1830.6,1442.9 1835.8,1441.6 1846.1,1434.8 1851.2,1434.1 1856.4,1436.1 1861.0,1436.9 1871.7,1429.3 1876.7,1430.3 1881.8,1437.3 1887.0,1443.1 1892.2,1441.3 1902.5,1425.8 1907.6,1422.8 1912.9,1424.5 1923.3,1433.6 1928.4,1435.0 1933.6,1435.8 1938.7,1439.1 1949.0,1449.1 1954.2,1449.8 1964.5,1438.1 1969.7,1436.9 1974.8,1440.8 1980.0,1442.3 1990.3,1427.0 1995.5,1423.1 2000.6,1423.6 2005.8,1429.0 2010.9,1437.3 2016.1,1440.8 2026.4,1434.5 2031.6,1434.0 2041.9,1441.3 2047.0,1441.6 2052.2,1437.8 2057.4,1435.9 2062.5,1439.4 2067.6,1444.4 2072.8,1448.1 2077.9,1447.8 2088.2,1435.0 2093.4,1433.3 2103.7,1440.8 2108.9,1439.1 2113.0,1435.8"/>
</g>
<g stroke-width="8.3">
<line x1="666.1" x2="666.1" y1="251.5" y2="333.1" stroke="#ff0000"/>
<line x1="1311.3" x2="1311.3" y1="251.5" y2="333.1" stroke="#00e000"/>
<line x1="373.7" x2="373.7" y1="414.9" y2="496.5" stroke="#ff0000"/>
<line x1="798.1" x2="798.1" y1="414.9" y2="496.5" stroke="#00e000"/>
<line x1="791.1" x2="791.1" y1="578.3" y2="659.9" stroke="#ff0000"/>
<line x1="1206.4" x2="1206.4" y1="578.3" y2="659.9" stroke="#00e000"/>
<line x1="357.5" x2="357.5" y1="741.7" y2="823.3" stroke="#ff0000"/>
<line x1="626.9" x2="626.9" y1="741.7" y2="823.3" stroke="#00e000"/>
<line x1="1023.4" x2="1023.4" y1="905.1" y2="986.7" stroke="#ff0000"/>
<line x1="983.2" x2="983.2" y1="905.1" y2="986.7" stroke="#00e000"/>
<line x1="715.1" x2="715.1" y1="1068.5" y2="1150.1" stroke="#ff0000"/>
<line x1="1109.1" x2="1109.1" y1="1068.5" y2="1150.1" stroke="#00e000"/>
<line x1="354.4" x2="354.4" y1="1231.9" y2="1313.5" stroke="#00e000"/>
</g>
</svg>
</body></html>
